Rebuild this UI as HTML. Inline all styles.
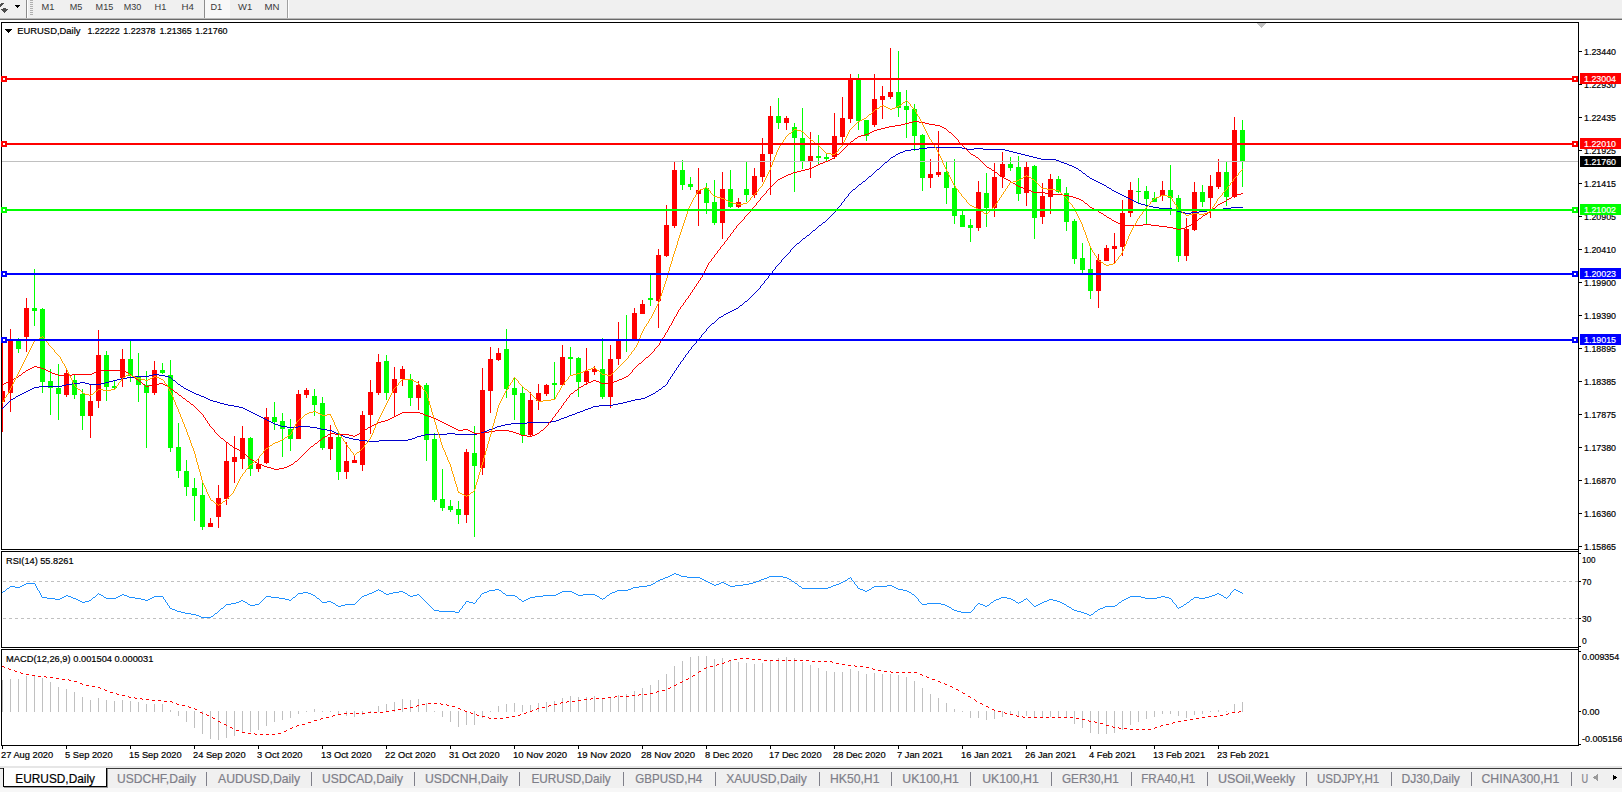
<!DOCTYPE html><html><head><meta charset="utf-8"><title>EURUSD,Daily</title>
<style>html,body{margin:0;padding:0;background:#fff;width:1622px;height:792px;overflow:hidden}svg{display:block;position:absolute;left:0;top:0}text{font-family:"Liberation Sans",sans-serif;font-size:9.9px;fill:#000;stroke:#000;stroke-width:0.2px}.tb text{fill:#3a3a3a;stroke:none;font-size:9.9px}.tab text{fill:#7e7e88;stroke:#7e7e88;stroke-width:0.2px;font-size:13px}.c{shape-rendering:crispEdges}</style></head><body>
<svg width="1622" height="792" viewBox="0 0 1622 792">
<rect width="1622" height="792" fill="#fff"/>
<g class="c tb">
<rect x="0" y="0" width="1622" height="18" fill="#f0f0f0"/>
<rect x="0" y="18" width="1622" height="1" fill="#b9b9b9"/>
<rect x="0" y="19" width="1622" height="1" fill="#6a6a6a"/>
<path d="M1 9h7l-3.5 4z" fill="#4d4d4d"/><path d="M3 8h3v1h-3z" fill="#4d4d4d"/>
<path d="M0 4l2.5-1.5 1 1L1 7H0z" fill="#4d4d4d"/>
<path d="M15 5h5l-2.5 3z" fill="#000"/>
<rect x="26" y="0" width="1" height="18" fill="#8c8c8c"/><rect x="27" y="0" width="1" height="18" fill="#fff"/>
<rect x="30" y="0" width="3" height="1" fill="#b0b0b0"/>
<rect x="30" y="2" width="3" height="1" fill="#b0b0b0"/>
<rect x="30" y="4" width="3" height="1" fill="#b0b0b0"/>
<rect x="30" y="6" width="3" height="1" fill="#b0b0b0"/>
<rect x="30" y="8" width="3" height="1" fill="#b0b0b0"/>
<rect x="30" y="10" width="3" height="1" fill="#b0b0b0"/>
<rect x="30" y="12" width="3" height="1" fill="#b0b0b0"/>
<rect x="30" y="14" width="3" height="1" fill="#b0b0b0"/>
<rect x="204" y="0" width="26" height="18" fill="#f8f8f8"/><rect x="204" y="0" width="1" height="18" fill="#8c8c8c"/>
<rect x="287" y="0" width="1" height="18" fill="#a0a0a0"/><rect x="288" y="0" width="1" height="18" fill="#fff"/>
</g><g class="tb">
<text x="41.6" y="10" textLength="12.9" lengthAdjust="spacingAndGlyphs">M1</text>
<text x="69.7" y="10" textLength="12.6" lengthAdjust="spacingAndGlyphs">M5</text>
<text x="95.6" y="10" textLength="17.6" lengthAdjust="spacingAndGlyphs">M15</text>
<text x="123.7" y="10" textLength="17.6" lengthAdjust="spacingAndGlyphs">M30</text>
<text x="154.6" y="10" textLength="11.8" lengthAdjust="spacingAndGlyphs">H1</text>
<text x="181.6" y="10" textLength="12.4" lengthAdjust="spacingAndGlyphs">H4</text>
<text x="210.4" y="10" textLength="11.7" lengthAdjust="spacingAndGlyphs">D1</text>
<text x="238" y="10" textLength="14.2" lengthAdjust="spacingAndGlyphs">W1</text>
<text x="264.4" y="10" textLength="15.0" lengthAdjust="spacingAndGlyphs">MN</text>
</g>
<g class="c">
<rect x="1" y="22" width="1578" height="1" fill="#000"/>
<rect x="1" y="549" width="1578" height="1" fill="#000"/>
<rect x="1" y="22" width="1" height="528" fill="#000"/>
<rect x="1" y="551" width="1578" height="1" fill="#000"/>
<rect x="1" y="647" width="1578" height="1" fill="#000"/>
<rect x="1" y="551" width="1" height="97" fill="#000"/>
<rect x="1" y="649" width="1578" height="1" fill="#000"/>
<rect x="1" y="745" width="1578" height="1" fill="#000"/>
<rect x="1" y="649" width="1" height="97" fill="#000"/>
<rect x="1578" y="22" width="1" height="724" fill="#000"/>
<path d="M1257 23h9l-4.5 5z" fill="#c0c0c0"/>
<path d="M5 29h7l-3.5 4z" fill="#000"/>
</g>
<g class="c">
<rect x="2" y="342" width="1" height="90" fill="#ff0000"/>
<rect x="2" y="391" width="3" height="11" fill="#ff0000"/>
<rect x="10" y="329" width="1" height="83" fill="#ff0000"/>
<rect x="8" y="341" width="5" height="52" fill="#ff0000"/>
<rect x="18" y="338" width="1" height="15" fill="#00ff00"/>
<rect x="16" y="341" width="5" height="8" fill="#00ff00"/>
<rect x="26" y="298" width="1" height="54" fill="#ff0000"/>
<rect x="24" y="308" width="5" height="29" fill="#ff0000"/>
<rect x="34" y="269" width="1" height="57" fill="#00ff00"/>
<rect x="32" y="308" width="5" height="3" fill="#00ff00"/>
<rect x="42" y="308" width="1" height="85" fill="#00ff00"/>
<rect x="40" y="309" width="5" height="73" fill="#00ff00"/>
<rect x="50" y="369" width="1" height="46" fill="#00ff00"/>
<rect x="48" y="381" width="5" height="7" fill="#00ff00"/>
<rect x="58" y="364" width="1" height="56" fill="#00ff00"/>
<rect x="56" y="388" width="5" height="6" fill="#00ff00"/>
<rect x="66" y="370" width="1" height="27" fill="#ff0000"/>
<rect x="64" y="373" width="5" height="22" fill="#ff0000"/>
<rect x="74" y="375" width="1" height="24" fill="#00ff00"/>
<rect x="72" y="380" width="5" height="15" fill="#00ff00"/>
<rect x="82" y="389" width="1" height="41" fill="#00ff00"/>
<rect x="80" y="394" width="5" height="22" fill="#00ff00"/>
<rect x="90" y="385" width="1" height="53" fill="#ff0000"/>
<rect x="88" y="401" width="5" height="15" fill="#ff0000"/>
<rect x="98" y="330" width="1" height="78" fill="#ff0000"/>
<rect x="96" y="355" width="5" height="46" fill="#ff0000"/>
<rect x="106" y="351" width="1" height="50" fill="#00ff00"/>
<rect x="104" y="355" width="5" height="32" fill="#00ff00"/>
<rect x="114" y="380" width="1" height="9" fill="#00ff00"/>
<rect x="112" y="386" width="5" height="2" fill="#00ff00"/>
<rect x="122" y="349" width="1" height="38" fill="#ff0000"/>
<rect x="120" y="359" width="5" height="19" fill="#ff0000"/>
<rect x="130" y="341" width="1" height="41" fill="#00ff00"/>
<rect x="128" y="359" width="5" height="17" fill="#00ff00"/>
<rect x="138" y="353" width="1" height="49" fill="#00ff00"/>
<rect x="136" y="377" width="5" height="8" fill="#00ff00"/>
<rect x="146" y="371" width="1" height="77" fill="#00ff00"/>
<rect x="144" y="385" width="5" height="8" fill="#00ff00"/>
<rect x="154" y="361" width="1" height="34" fill="#ff0000"/>
<rect x="152" y="370" width="5" height="23" fill="#ff0000"/>
<rect x="162" y="363" width="1" height="11" fill="#00ff00"/>
<rect x="160" y="370" width="5" height="3" fill="#00ff00"/>
<rect x="170" y="360" width="1" height="92" fill="#00ff00"/>
<rect x="168" y="375" width="5" height="73" fill="#00ff00"/>
<rect x="178" y="423" width="1" height="55" fill="#00ff00"/>
<rect x="176" y="447" width="5" height="24" fill="#00ff00"/>
<rect x="186" y="460" width="1" height="36" fill="#00ff00"/>
<rect x="184" y="471" width="5" height="16" fill="#00ff00"/>
<rect x="194" y="478" width="1" height="43" fill="#00ff00"/>
<rect x="192" y="488" width="5" height="8" fill="#00ff00"/>
<rect x="202" y="481" width="1" height="49" fill="#00ff00"/>
<rect x="200" y="495" width="5" height="32" fill="#00ff00"/>
<rect x="210" y="518" width="1" height="9" fill="#ff0000"/>
<rect x="208" y="523" width="5" height="4" fill="#ff0000"/>
<rect x="218" y="485" width="1" height="43" fill="#ff0000"/>
<rect x="216" y="498" width="5" height="19" fill="#ff0000"/>
<rect x="226" y="443" width="1" height="62" fill="#ff0000"/>
<rect x="224" y="461" width="5" height="38" fill="#ff0000"/>
<rect x="234" y="436" width="1" height="47" fill="#ff0000"/>
<rect x="232" y="457" width="5" height="5" fill="#ff0000"/>
<rect x="242" y="426" width="1" height="43" fill="#ff0000"/>
<rect x="240" y="438" width="5" height="21" fill="#ff0000"/>
<rect x="250" y="437" width="1" height="39" fill="#00ff00"/>
<rect x="248" y="438" width="5" height="31" fill="#00ff00"/>
<rect x="258" y="459" width="1" height="13" fill="#ff0000"/>
<rect x="256" y="464" width="5" height="5" fill="#ff0000"/>
<rect x="266" y="408" width="1" height="56" fill="#ff0000"/>
<rect x="264" y="417" width="5" height="46" fill="#ff0000"/>
<rect x="274" y="402" width="1" height="28" fill="#00ff00"/>
<rect x="272" y="417" width="5" height="5" fill="#00ff00"/>
<rect x="282" y="413" width="1" height="44" fill="#00ff00"/>
<rect x="280" y="421" width="5" height="8" fill="#00ff00"/>
<rect x="290" y="419" width="1" height="32" fill="#00ff00"/>
<rect x="288" y="429" width="5" height="10" fill="#00ff00"/>
<rect x="298" y="390" width="1" height="49" fill="#ff0000"/>
<rect x="296" y="394" width="5" height="45" fill="#ff0000"/>
<rect x="306" y="388" width="1" height="10" fill="#ff0000"/>
<rect x="304" y="390" width="5" height="5" fill="#ff0000"/>
<rect x="314" y="389" width="1" height="27" fill="#00ff00"/>
<rect x="312" y="396" width="5" height="9" fill="#00ff00"/>
<rect x="322" y="397" width="1" height="53" fill="#00ff00"/>
<rect x="320" y="403" width="5" height="45" fill="#00ff00"/>
<rect x="330" y="425" width="1" height="35" fill="#ff0000"/>
<rect x="328" y="437" width="5" height="12" fill="#ff0000"/>
<rect x="338" y="433" width="1" height="47" fill="#00ff00"/>
<rect x="336" y="437" width="5" height="35" fill="#00ff00"/>
<rect x="346" y="442" width="1" height="37" fill="#ff0000"/>
<rect x="344" y="461" width="5" height="11" fill="#ff0000"/>
<rect x="354" y="455" width="1" height="8" fill="#ff0000"/>
<rect x="352" y="460" width="5" height="3" fill="#ff0000"/>
<rect x="362" y="411" width="1" height="60" fill="#ff0000"/>
<rect x="360" y="415" width="5" height="50" fill="#ff0000"/>
<rect x="370" y="380" width="1" height="54" fill="#ff0000"/>
<rect x="368" y="392" width="5" height="23" fill="#ff0000"/>
<rect x="378" y="354" width="1" height="41" fill="#ff0000"/>
<rect x="376" y="362" width="5" height="31" fill="#ff0000"/>
<rect x="386" y="355" width="1" height="45" fill="#00ff00"/>
<rect x="384" y="361" width="5" height="32" fill="#00ff00"/>
<rect x="394" y="367" width="1" height="49" fill="#ff0000"/>
<rect x="392" y="379" width="5" height="14" fill="#ff0000"/>
<rect x="402" y="366" width="1" height="20" fill="#ff0000"/>
<rect x="400" y="369" width="5" height="10" fill="#ff0000"/>
<rect x="410" y="374" width="1" height="32" fill="#00ff00"/>
<rect x="408" y="379" width="5" height="19" fill="#00ff00"/>
<rect x="418" y="381" width="1" height="29" fill="#ff0000"/>
<rect x="416" y="385" width="5" height="13" fill="#ff0000"/>
<rect x="426" y="383" width="1" height="78" fill="#00ff00"/>
<rect x="424" y="385" width="5" height="55" fill="#00ff00"/>
<rect x="434" y="433" width="1" height="69" fill="#00ff00"/>
<rect x="432" y="439" width="5" height="61" fill="#00ff00"/>
<rect x="442" y="469" width="1" height="42" fill="#00ff00"/>
<rect x="440" y="499" width="5" height="9" fill="#00ff00"/>
<rect x="450" y="500" width="1" height="12" fill="#00ff00"/>
<rect x="448" y="506" width="5" height="4" fill="#00ff00"/>
<rect x="458" y="501" width="1" height="23" fill="#00ff00"/>
<rect x="456" y="509" width="5" height="6" fill="#00ff00"/>
<rect x="466" y="449" width="1" height="74" fill="#ff0000"/>
<rect x="464" y="452" width="5" height="63" fill="#ff0000"/>
<rect x="474" y="426" width="1" height="111" fill="#00ff00"/>
<rect x="472" y="453" width="5" height="13" fill="#00ff00"/>
<rect x="482" y="368" width="1" height="107" fill="#ff0000"/>
<rect x="480" y="390" width="5" height="78" fill="#ff0000"/>
<rect x="490" y="347" width="1" height="66" fill="#ff0000"/>
<rect x="488" y="359" width="5" height="32" fill="#ff0000"/>
<rect x="498" y="348" width="1" height="13" fill="#ff0000"/>
<rect x="496" y="353" width="5" height="7" fill="#ff0000"/>
<rect x="506" y="329" width="1" height="69" fill="#00ff00"/>
<rect x="504" y="349" width="5" height="40" fill="#00ff00"/>
<rect x="514" y="377" width="1" height="43" fill="#00ff00"/>
<rect x="512" y="388" width="5" height="7" fill="#00ff00"/>
<rect x="522" y="386" width="1" height="57" fill="#00ff00"/>
<rect x="520" y="393" width="5" height="42" fill="#00ff00"/>
<rect x="530" y="392" width="1" height="44" fill="#ff0000"/>
<rect x="528" y="400" width="5" height="35" fill="#ff0000"/>
<rect x="538" y="384" width="1" height="26" fill="#ff0000"/>
<rect x="536" y="393" width="5" height="8" fill="#ff0000"/>
<rect x="546" y="384" width="1" height="12" fill="#ff0000"/>
<rect x="544" y="385" width="5" height="9" fill="#ff0000"/>
<rect x="554" y="362" width="1" height="37" fill="#00ff00"/>
<rect x="552" y="383" width="5" height="2" fill="#00ff00"/>
<rect x="562" y="345" width="1" height="40" fill="#ff0000"/>
<rect x="560" y="357" width="5" height="28" fill="#ff0000"/>
<rect x="570" y="347" width="1" height="28" fill="#00ff00"/>
<rect x="568" y="357" width="5" height="2" fill="#00ff00"/>
<rect x="578" y="357" width="1" height="40" fill="#00ff00"/>
<rect x="576" y="358" width="5" height="24" fill="#00ff00"/>
<rect x="586" y="348" width="1" height="37" fill="#ff0000"/>
<rect x="584" y="371" width="5" height="11" fill="#ff0000"/>
<rect x="594" y="366" width="1" height="9" fill="#ff0000"/>
<rect x="592" y="369" width="5" height="3" fill="#ff0000"/>
<rect x="602" y="338" width="1" height="61" fill="#00ff00"/>
<rect x="600" y="369" width="5" height="28" fill="#00ff00"/>
<rect x="610" y="345" width="1" height="63" fill="#ff0000"/>
<rect x="608" y="359" width="5" height="38" fill="#ff0000"/>
<rect x="618" y="322" width="1" height="43" fill="#ff0000"/>
<rect x="616" y="340" width="5" height="19" fill="#ff0000"/>
<rect x="626" y="315" width="1" height="37" fill="#00ff00"/>
<rect x="624" y="339" width="5" height="2" fill="#00ff00"/>
<rect x="634" y="308" width="1" height="33" fill="#ff0000"/>
<rect x="632" y="313" width="5" height="27" fill="#ff0000"/>
<rect x="642" y="300" width="1" height="14" fill="#ff0000"/>
<rect x="640" y="304" width="5" height="10" fill="#ff0000"/>
<rect x="650" y="275" width="1" height="31" fill="#00ff00"/>
<rect x="648" y="298" width="5" height="2" fill="#00ff00"/>
<rect x="658" y="249" width="1" height="79" fill="#ff0000"/>
<rect x="656" y="255" width="5" height="46" fill="#ff0000"/>
<rect x="666" y="205" width="1" height="52" fill="#ff0000"/>
<rect x="664" y="225" width="5" height="31" fill="#ff0000"/>
<rect x="674" y="162" width="1" height="66" fill="#ff0000"/>
<rect x="672" y="170" width="5" height="56" fill="#ff0000"/>
<rect x="682" y="160" width="1" height="30" fill="#00ff00"/>
<rect x="680" y="170" width="5" height="15" fill="#00ff00"/>
<rect x="690" y="177" width="1" height="13" fill="#00ff00"/>
<rect x="688" y="184" width="5" height="3" fill="#00ff00"/>
<rect x="698" y="168" width="1" height="58" fill="#ff0000"/>
<rect x="696" y="190" width="5" height="4" fill="#ff0000"/>
<rect x="706" y="183" width="1" height="31" fill="#00ff00"/>
<rect x="704" y="188" width="5" height="15" fill="#00ff00"/>
<rect x="714" y="180" width="1" height="45" fill="#00ff00"/>
<rect x="712" y="202" width="5" height="21" fill="#00ff00"/>
<rect x="722" y="172" width="1" height="67" fill="#ff0000"/>
<rect x="720" y="189" width="5" height="34" fill="#ff0000"/>
<rect x="730" y="170" width="1" height="38" fill="#00ff00"/>
<rect x="728" y="189" width="5" height="18" fill="#00ff00"/>
<rect x="738" y="198" width="1" height="10" fill="#ff0000"/>
<rect x="736" y="202" width="5" height="5" fill="#ff0000"/>
<rect x="746" y="161" width="1" height="41" fill="#00ff00"/>
<rect x="744" y="189" width="5" height="6" fill="#00ff00"/>
<rect x="754" y="168" width="1" height="30" fill="#ff0000"/>
<rect x="752" y="176" width="5" height="19" fill="#ff0000"/>
<rect x="762" y="138" width="1" height="44" fill="#ff0000"/>
<rect x="760" y="154" width="5" height="23" fill="#ff0000"/>
<rect x="770" y="106" width="1" height="89" fill="#ff0000"/>
<rect x="768" y="116" width="5" height="38" fill="#ff0000"/>
<rect x="778" y="98" width="1" height="31" fill="#00ff00"/>
<rect x="776" y="116" width="5" height="7" fill="#00ff00"/>
<rect x="786" y="116" width="1" height="14" fill="#ff0000"/>
<rect x="784" y="118" width="5" height="5" fill="#ff0000"/>
<rect x="794" y="123" width="1" height="69" fill="#00ff00"/>
<rect x="792" y="127" width="5" height="11" fill="#00ff00"/>
<rect x="802" y="108" width="1" height="61" fill="#00ff00"/>
<rect x="800" y="138" width="5" height="24" fill="#00ff00"/>
<rect x="810" y="132" width="1" height="46" fill="#ff0000"/>
<rect x="808" y="156" width="5" height="6" fill="#ff0000"/>
<rect x="818" y="135" width="1" height="30" fill="#00ff00"/>
<rect x="816" y="156" width="5" height="2" fill="#00ff00"/>
<rect x="826" y="153" width="1" height="8" fill="#00ff00"/>
<rect x="824" y="157" width="5" height="2" fill="#00ff00"/>
<rect x="834" y="113" width="1" height="46" fill="#ff0000"/>
<rect x="832" y="136" width="5" height="21" fill="#ff0000"/>
<rect x="842" y="97" width="1" height="46" fill="#ff0000"/>
<rect x="840" y="118" width="5" height="19" fill="#ff0000"/>
<rect x="850" y="74" width="1" height="49" fill="#ff0000"/>
<rect x="848" y="79" width="5" height="40" fill="#ff0000"/>
<rect x="858" y="74" width="1" height="56" fill="#00ff00"/>
<rect x="856" y="80" width="5" height="41" fill="#00ff00"/>
<rect x="866" y="120" width="1" height="21" fill="#00ff00"/>
<rect x="864" y="120" width="5" height="16" fill="#00ff00"/>
<rect x="874" y="74" width="1" height="53" fill="#ff0000"/>
<rect x="872" y="99" width="5" height="26" fill="#ff0000"/>
<rect x="882" y="86" width="1" height="33" fill="#ff0000"/>
<rect x="880" y="96" width="5" height="4" fill="#ff0000"/>
<rect x="890" y="48" width="1" height="51" fill="#ff0000"/>
<rect x="888" y="92" width="5" height="5" fill="#ff0000"/>
<rect x="898" y="51" width="1" height="66" fill="#00ff00"/>
<rect x="896" y="92" width="5" height="16" fill="#00ff00"/>
<rect x="906" y="90" width="1" height="48" fill="#00ff00"/>
<rect x="904" y="106" width="5" height="4" fill="#00ff00"/>
<rect x="914" y="104" width="1" height="47" fill="#00ff00"/>
<rect x="912" y="109" width="5" height="27" fill="#00ff00"/>
<rect x="922" y="134" width="1" height="57" fill="#00ff00"/>
<rect x="920" y="135" width="5" height="43" fill="#00ff00"/>
<rect x="930" y="159" width="1" height="29" fill="#ff0000"/>
<rect x="928" y="174" width="5" height="4" fill="#ff0000"/>
<rect x="938" y="131" width="1" height="46" fill="#ff0000"/>
<rect x="936" y="172" width="5" height="3" fill="#ff0000"/>
<rect x="946" y="162" width="1" height="42" fill="#00ff00"/>
<rect x="944" y="172" width="5" height="16" fill="#00ff00"/>
<rect x="954" y="159" width="1" height="65" fill="#00ff00"/>
<rect x="952" y="188" width="5" height="28" fill="#00ff00"/>
<rect x="962" y="211" width="1" height="16" fill="#00ff00"/>
<rect x="960" y="215" width="5" height="12" fill="#00ff00"/>
<rect x="970" y="219" width="1" height="23" fill="#00ff00"/>
<rect x="968" y="225" width="5" height="3" fill="#00ff00"/>
<rect x="978" y="181" width="1" height="50" fill="#ff0000"/>
<rect x="976" y="192" width="5" height="36" fill="#ff0000"/>
<rect x="986" y="173" width="1" height="54" fill="#00ff00"/>
<rect x="984" y="193" width="5" height="15" fill="#00ff00"/>
<rect x="994" y="163" width="1" height="54" fill="#ff0000"/>
<rect x="992" y="177" width="5" height="31" fill="#ff0000"/>
<rect x="1002" y="152" width="1" height="36" fill="#ff0000"/>
<rect x="1000" y="164" width="5" height="13" fill="#ff0000"/>
<rect x="1010" y="157" width="1" height="14" fill="#00ff00"/>
<rect x="1008" y="164" width="5" height="4" fill="#00ff00"/>
<rect x="1018" y="156" width="1" height="45" fill="#00ff00"/>
<rect x="1016" y="167" width="5" height="27" fill="#00ff00"/>
<rect x="1026" y="161" width="1" height="45" fill="#ff0000"/>
<rect x="1024" y="167" width="5" height="26" fill="#ff0000"/>
<rect x="1034" y="165" width="1" height="74" fill="#00ff00"/>
<rect x="1032" y="166" width="5" height="52" fill="#00ff00"/>
<rect x="1042" y="183" width="1" height="41" fill="#ff0000"/>
<rect x="1040" y="196" width="5" height="21" fill="#ff0000"/>
<rect x="1050" y="174" width="1" height="40" fill="#ff0000"/>
<rect x="1048" y="179" width="5" height="18" fill="#ff0000"/>
<rect x="1058" y="176" width="1" height="17" fill="#00ff00"/>
<rect x="1056" y="179" width="5" height="13" fill="#00ff00"/>
<rect x="1066" y="187" width="1" height="44" fill="#00ff00"/>
<rect x="1064" y="193" width="5" height="29" fill="#00ff00"/>
<rect x="1074" y="219" width="1" height="45" fill="#00ff00"/>
<rect x="1072" y="221" width="5" height="38" fill="#00ff00"/>
<rect x="1082" y="243" width="1" height="30" fill="#00ff00"/>
<rect x="1080" y="258" width="5" height="12" fill="#00ff00"/>
<rect x="1090" y="248" width="1" height="51" fill="#00ff00"/>
<rect x="1088" y="269" width="5" height="22" fill="#00ff00"/>
<rect x="1098" y="254" width="1" height="54" fill="#ff0000"/>
<rect x="1096" y="260" width="5" height="31" fill="#ff0000"/>
<rect x="1106" y="245" width="1" height="16" fill="#ff0000"/>
<rect x="1104" y="248" width="5" height="13" fill="#ff0000"/>
<rect x="1114" y="233" width="1" height="30" fill="#ff0000"/>
<rect x="1112" y="246" width="5" height="3" fill="#ff0000"/>
<rect x="1122" y="200" width="1" height="56" fill="#ff0000"/>
<rect x="1120" y="213" width="5" height="34" fill="#ff0000"/>
<rect x="1130" y="182" width="1" height="35" fill="#ff0000"/>
<rect x="1128" y="190" width="5" height="23" fill="#ff0000"/>
<rect x="1138" y="178" width="1" height="25" fill="#00ff00"/>
<rect x="1136" y="191" width="5" height="1" fill="#00ff00"/>
<rect x="1146" y="186" width="1" height="38" fill="#00ff00"/>
<rect x="1144" y="191" width="5" height="8" fill="#00ff00"/>
<rect x="1154" y="192" width="1" height="10" fill="#00ff00"/>
<rect x="1152" y="198" width="5" height="4" fill="#00ff00"/>
<rect x="1162" y="181" width="1" height="20" fill="#ff0000"/>
<rect x="1160" y="190" width="5" height="6" fill="#ff0000"/>
<rect x="1170" y="165" width="1" height="50" fill="#00ff00"/>
<rect x="1168" y="190" width="5" height="8" fill="#00ff00"/>
<rect x="1178" y="195" width="1" height="67" fill="#00ff00"/>
<rect x="1176" y="198" width="5" height="58" fill="#00ff00"/>
<rect x="1186" y="218" width="1" height="43" fill="#ff0000"/>
<rect x="1184" y="229" width="5" height="27" fill="#ff0000"/>
<rect x="1194" y="182" width="1" height="49" fill="#ff0000"/>
<rect x="1192" y="192" width="5" height="38" fill="#ff0000"/>
<rect x="1202" y="185" width="1" height="22" fill="#00ff00"/>
<rect x="1200" y="192" width="5" height="10" fill="#00ff00"/>
<rect x="1210" y="175" width="1" height="43" fill="#ff0000"/>
<rect x="1208" y="186" width="5" height="12" fill="#ff0000"/>
<rect x="1218" y="159" width="1" height="30" fill="#ff0000"/>
<rect x="1216" y="172" width="5" height="15" fill="#ff0000"/>
<rect x="1226" y="162" width="1" height="44" fill="#00ff00"/>
<rect x="1224" y="172" width="5" height="25" fill="#00ff00"/>
<rect x="1234" y="117" width="1" height="81" fill="#ff0000"/>
<rect x="1232" y="130" width="5" height="67" fill="#ff0000"/>
<rect x="1242" y="120" width="1" height="67" fill="#00ff00"/>
<rect x="1240" y="130" width="5" height="32" fill="#00ff00"/>
<rect x="2" y="161" width="1576" height="1" fill="#c0c0c0"/>
</g>
<g class="c">
<path fill="#0000cd" d="M672 374h1v2h-1zM790 250h1v2h-1zM848 194h1v2h-1zM836 209h1v2h-1zM683 358h1v2h-1zM775 267h1v2h-1zM841 203h1v2h-1zM688 351h1v2h-1zM676 368h1v2h-1zM691 347h1v2h-1zM768 276h1v2h-1zM680 362h1v2h-1zM674 371h1v2h-1zM670 377h1v2h-1zM685 355h1v2h-1zM696 341h1v2h-1zM772 271h1v2h-1zM760 286h1v2h-1zM701 335h1v2h-1zM668 380h1v2h-1zM844 199h1v2h-1zM764 281h1v2h-1zM706 329h1v2h-1zM678 365h1v2h-1zM667 382h1v2h-1zM781 260h1v2h-1zM338 434h2v1h-2zM425 434h22v1h-22zM455 434h22v1h-22zM856 187h1v1h-1zM1107 187h2v1h-2zM823 222h2v1h-2zM9 401h1v1h-1zM213 401h4v1h-4zM627 401h4v1h-4zM149 375h4v1h-4zM159 375h6v1h-6zM927 147h35v1h-35zM911 149h8v1h-8zM967 149h7v1h-7zM983 149h22v1h-22zM32 388h2v1h-2zM184 388h2v1h-2zM661 388h1v1h-1zM806 236h1v1h-1zM72 383h8v1h-8zM85 383h4v1h-4zM101 383h4v1h-4zM177 383h1v1h-1zM275 424h3v1h-3zM505 424h6v1h-6zM39 386h23v1h-23zM181 386h2v1h-2zM663 386h2v1h-2zM903 151h2v1h-2zM1009 151h4v1h-4zM5 405h1v1h-1zM228 405h6v1h-6zM599 405h14v1h-14zM135 376h14v1h-14zM165 376h4v1h-4zM671 376h1v1h-1zM340 435h3v1h-3zM421 435h4v1h-4zM359 440h8v1h-8zM379 440h29v1h-29zM813 230h2v1h-2zM255 414h2v1h-2zM572 414h3v1h-3zM353 439h6v1h-6zM408 439h4v1h-4zM3 407h1v1h-1zM239 407h4v1h-4zM591 407h2v1h-2zM919 148h8v1h-8zM962 148h5v1h-5zM974 148h9v1h-9zM771 273h1v1h-1zM861 183h1v1h-1zM1100 183h2v1h-2zM866 179h1v1h-1zM1092 179h2v1h-2zM273 423h2v1h-2zM511 423h16v1h-16zM265 419h2v1h-2zM559 419h2v1h-2zM349 438h4v1h-4zM412 438h3v1h-3zM367 441h12v1h-12zM900 152h3v1h-3zM1013 152h4v1h-4zM271 422h2v1h-2zM527 422h24v1h-24zM834 212h1v1h-1zM1181 212h4v1h-4zM1191 212h8v1h-8zM825 221h1v1h-1zM259 416h2v1h-2zM567 416h2v1h-2zM859 184h2v1h-2zM1102 184h2v1h-2zM343 436h2v1h-2zM417 436h4v1h-4zM321 429h6v1h-6zM489 429h3v1h-3zM782 259h1v1h-1zM884 163h1v1h-1zM1064 163h3v1h-3zM257 415h2v1h-2zM569 415h3v1h-3zM249 411h2v1h-2zM580 411h3v1h-3zM890 158h1v1h-1zM1037 158h4v1h-4zM684 357h1v1h-1zM24 392h2v1h-2zM192 392h2v1h-2zM655 392h1v1h-1zM2 408h1v1h-1zM243 408h2v1h-2zM588 408h3v1h-3zM336 433h2v1h-2zM447 433h8v1h-8zM477 433h4v1h-4zM833 213h1v1h-1zM1185 213h6v1h-6zM837 208h1v1h-1zM1159 208h13v1h-13zM1223 208h8v1h-8zM838 207h1v1h-1zM1153 207h6v1h-6zM1231 207h12v1h-12zM327 430h5v1h-5zM487 430h2v1h-2zM769 275h1v1h-1zM287 427h11v1h-11zM310 427h7v1h-7zM495 427h2v1h-2zM832 214h1v1h-1zM715 321h1v1h-1zM869 176h2v1h-2zM1087 176h2v1h-2zM750 297h1v1h-1zM739 306h1v1h-1zM675 370h1v1h-1zM278 425h3v1h-3zM501 425h4v1h-4zM121 378h6v1h-6zM171 378h1v1h-1zM875 171h1v1h-1zM1081 171h1v1h-1zM812 231h1v1h-1zM700 337h1v1h-1zM20 394h2v1h-2zM196 394h3v1h-3zM651 394h2v1h-2zM801 240h1v1h-1zM269 421h2v1h-2zM551 421h5v1h-5zM109 381h4v1h-4zM175 381h1v1h-1zM695 343h1v1h-1zM66 384h6v1h-6zM89 384h12v1h-12zM178 384h2v1h-2zM666 384h1v1h-1zM317 428h4v1h-4zM492 428h3v1h-3zM842 202h1v1h-1zM1136 202h2v1h-2zM127 377h8v1h-8zM169 377h2v1h-2zM873 173h1v1h-1zM1083 173h2v1h-2zM855 188h1v1h-1zM1109 188h2v1h-2zM889 159h1v1h-1zM1041 159h15v1h-15zM757 290h1v1h-1zM18 395h2v1h-2zM199 395h2v1h-2zM649 395h2v1h-2zM905 150h6v1h-6zM1005 150h4v1h-4zM245 409h2v1h-2zM585 409h3v1h-3zM740 305h2v1h-2zM16 396h2v1h-2zM201 396h3v1h-3zM647 396h2v1h-2zM819 225h2v1h-2zM6 404h1v1h-1zM224 404h4v1h-4zM613 404h5v1h-5zM845 198h1v1h-1zM1128 198h2v1h-2zM792 248h1v1h-1zM281 426h6v1h-6zM298 426h12v1h-12zM497 426h4v1h-4zM698 339h1v1h-1zM885 162h2v1h-2zM1061 162h3v1h-3zM893 156h2v1h-2zM1029 156h4v1h-4zM334 432h2v1h-2zM481 432h3v1h-3zM10 400h1v1h-1zM210 400h3v1h-3zM631 400h4v1h-4zM1120 194h2v1h-2zM852 190h1v1h-1zM1112 190h2v1h-2zM835 211h1v1h-1zM1177 211h4v1h-4zM1199 211h8v1h-8zM840 205h1v1h-1zM1145 205h4v1h-4zM1138 203h3v1h-3zM827 219h1v1h-1zM784 257h1v1h-1zM881 166h1v1h-1zM1072 166h2v1h-2zM13 398h2v1h-2zM206 398h2v1h-2zM641 398h4v1h-4zM117 379h4v1h-4zM172 379h1v1h-1zM669 379h1v1h-1zM4 406h1v1h-1zM234 406h5v1h-5zM593 406h6v1h-6zM891 157h2v1h-2zM1033 157h4v1h-4zM11 399h2v1h-2zM208 399h2v1h-2zM635 399h6v1h-6zM898 153h2v1h-2zM1017 153h4v1h-4zM62 385h4v1h-4zM180 385h1v1h-1zM665 385h1v1h-1zM686 354h1v1h-1zM882 165h1v1h-1zM1069 165h3v1h-3zM839 206h1v1h-1zM1149 206h4v1h-4zM807 235h2v1h-2zM251 412h2v1h-2zM577 412h3v1h-3zM776 266h1v1h-1zM796 244h1v1h-1zM28 390h2v1h-2zM188 390h2v1h-2zM658 390h1v1h-1zM8 402h1v1h-1zM217 402h3v1h-3zM623 402h4v1h-4zM717 319h1v1h-1zM745 301h2v1h-2zM850 192h1v1h-1zM1116 192h2v1h-2zM865 180h1v1h-1zM1094 180h2v1h-2zM877 169h2v1h-2zM1078 169h1v1h-1zM815 229h1v1h-1zM1172 209h3v1h-3zM1215 209h8v1h-8zM7 403h1v1h-1zM220 403h4v1h-4zM618 403h5v1h-5zM752 295h1v1h-1zM80 382h5v1h-5zM105 382h4v1h-4zM176 382h1v1h-1zM30 389h2v1h-2zM186 389h2v1h-2zM659 389h2v1h-2zM345 437h4v1h-4zM415 437h2v1h-2zM708 327h1v1h-1zM743 303h1v1h-1zM689 350h1v1h-1zM896 154h2v1h-2zM1021 154h4v1h-4zM822 223h1v1h-1zM895 155h1v1h-1zM1025 155h4v1h-4zM261 417h2v1h-2zM564 417h3v1h-3zM794 246h1v1h-1zM1141 204h4v1h-4zM759 288h1v1h-1zM843 201h1v1h-1zM1134 201h2v1h-2zM26 391h2v1h-2zM190 391h2v1h-2zM656 391h2v1h-2zM726 313h2v1h-2zM770 274h1v1h-1zM1132 200h2v1h-2zM712 323h2v1h-2zM846 197h1v1h-1zM1126 197h2v1h-2zM849 193h1v1h-1zM1118 193h2v1h-2zM888 160h1v1h-1zM1056 160h3v1h-3zM887 161h1v1h-1zM1059 161h2v1h-2zM883 164h1v1h-1zM1067 164h2v1h-2zM22 393h2v1h-2zM194 393h2v1h-2zM653 393h2v1h-2zM1175 210h2v1h-2zM1207 210h8v1h-8zM723 315h1v1h-1zM847 196h1v1h-1zM1124 196h2v1h-2zM738 307h1v1h-1zM704 332h1v1h-1zM828 218h1v1h-1zM880 167h1v1h-1zM1074 167h2v1h-2zM817 227h1v1h-1zM863 181h2v1h-2zM1096 181h2v1h-2zM699 338h1v1h-1zM800 241h1v1h-1zM857 186h1v1h-1zM1106 186h1v1h-1zM862 182h1v1h-1zM1098 182h2v1h-2zM247 410h2v1h-2zM583 410h2v1h-2zM871 175h1v1h-1zM1086 175h1v1h-1zM867 178h1v1h-1zM1090 178h2v1h-2zM749 298h1v1h-1zM710 325h1v1h-1zM734 309h2v1h-2zM766 279h1v1h-1zM263 418h2v1h-2zM561 418h3v1h-3zM761 285h1v1h-1zM113 380h4v1h-4zM173 380h2v1h-2zM682 360h1v1h-1zM34 387h5v1h-5zM183 387h1v1h-1zM662 387h1v1h-1zM730 311h2v1h-2zM753 294h1v1h-1zM702 334h1v1h-1zM153 374h6v1h-6zM858 185h1v1h-1zM1104 185h2v1h-2zM795 245h1v1h-1zM732 310h2v1h-2zM744 302h1v1h-1zM690 349h1v1h-1zM874 172h1v1h-1zM1082 172h1v1h-1zM802 239h1v1h-1zM751 296h1v1h-1zM728 312h2v1h-2zM830 216h1v1h-1zM787 254h1v1h-1zM724 314h2v1h-2zM693 345h1v1h-1zM748 299h1v1h-1zM853 189h2v1h-2zM1111 189h1v1h-1zM763 283h1v1h-1zM821 224h1v1h-1zM810 233h1v1h-1zM879 168h1v1h-1zM1076 168h2v1h-2zM779 263h1v1h-1zM774 269h1v1h-1zM267 420h2v1h-2zM556 420h3v1h-3zM755 292h1v1h-1zM253 413h2v1h-2zM575 413h2v1h-2zM15 397h1v1h-1zM204 397h2v1h-2zM645 397h2v1h-2zM681 361h1v1h-1zM711 324h1v1h-1zM332 431h2v1h-2zM484 431h3v1h-3zM687 353h1v1h-1zM777 265h1v1h-1zM797 243h2v1h-2zM703 333h1v1h-1zM868 177h1v1h-1zM1089 177h1v1h-1zM805 237h1v1h-1zM789 252h1v1h-1zM876 170h1v1h-1zM1079 170h2v1h-2zM816 228h1v1h-1zM765 280h1v1h-1zM803 238h2v1h-2zM773 270h1v1h-1zM694 344h1v1h-1zM705 331h1v1h-1zM811 232h1v1h-1zM721 316h2v1h-2zM791 249h1v1h-1zM677 367h1v1h-1zM829 217h1v1h-1zM818 226h1v1h-1zM786 255h1v1h-1zM767 278h1v1h-1zM736 308h2v1h-2zM826 220h1v1h-1zM783 258h1v1h-1zM762 284h1v1h-1zM872 174h1v1h-1zM1085 174h1v1h-1zM809 234h1v1h-1zM673 373h1v1h-1zM697 340h1v1h-1zM692 346h1v1h-1zM747 300h1v1h-1zM1130 199h2v1h-2zM1122 195h2v1h-2zM719 317h2v1h-2zM778 264h1v1h-1zM851 191h1v1h-1zM1114 191h2v1h-2zM754 293h1v1h-1zM716 320h1v1h-1zM793 247h1v1h-1zM758 289h1v1h-1zM831 215h1v1h-1zM788 253h1v1h-1zM707 328h1v1h-1zM742 304h1v1h-1zM679 364h1v1h-1zM714 322h1v1h-1zM785 256h1v1h-1zM780 262h1v1h-1zM756 291h1v1h-1zM718 318h1v1h-1zM799 242h1v1h-1zM709 326h1v1h-1z"/>
<path fill="#ff0000" d="M683 303h1v2h-1zM678 310h1v2h-1zM717 251h1v2h-1zM203 415h1v2h-1zM214 430h1v2h-1zM677 312h1v2h-1zM673 319h1v2h-1zM669 326h1v2h-1zM672 321h1v2h-1zM632 370h1v2h-1zM205 418h1v2h-1zM668 328h1v2h-1zM664 335h1v2h-1zM692 290h1v2h-1zM558 410h1v2h-1zM688 296h1v2h-1zM667 330h1v2h-1zM727 238h1v2h-1zM706 267h1v2h-1zM569 395h1v2h-1zM705 269h1v2h-1zM563 403h1v2h-1zM548 423h1v2h-1zM752 208h1v2h-1zM696 284h1v2h-1zM659 343h1v2h-1zM711 259h1v2h-1zM707 265h1v2h-1zM702 275h1v2h-1zM733 230h1v2h-1zM552 418h1v2h-1zM756 203h1v2h-1zM680 307h1v2h-1zM676 314h1v2h-1zM209 424h1v2h-1zM671 323h1v2h-1zM685 300h1v2h-1zM744 217h1v2h-1zM660 341h1v2h-1zM720 247h1v2h-1zM958 140h1v2h-1zM674 317h1v2h-1zM662 338h1v2h-1zM561 406h1v2h-1zM207 421h1v2h-1zM665 333h1v2h-1zM760 198h1v2h-1zM736 226h1v2h-1zM724 242h1v2h-1zM555 414h1v2h-1zM566 399h1v2h-1zM698 281h1v2h-1zM694 287h1v2h-1zM690 293h1v2h-1zM654 349h1v2h-1zM714 255h1v2h-1zM708 263h1v2h-1zM704 271h1v2h-1zM700 278h1v2h-1zM703 273h1v2h-1zM730 234h1v2h-1zM766 191h1v2h-1zM362 431h1v1h-1zM470 431h2v1h-2zM489 431h6v1h-6zM509 431h4v1h-4zM540 431h1v1h-1zM6 382h2v1h-2zM141 382h1v1h-1zM588 382h3v1h-3zM599 382h2v1h-2zM612 382h2v1h-2zM171 389h2v1h-2zM577 389h1v1h-1zM217 434h1v1h-1zM328 434h2v1h-2zM335 434h14v1h-14zM357 434h2v1h-2zM519 434h2v1h-2zM535 434h2v1h-2zM758 201h1v1h-1zM1083 201h1v1h-1zM1224 201h2v1h-2zM271 468h3v1h-3zM279 468h5v1h-5zM734 229h1v1h-1zM1177 229h4v1h-4zM737 225h1v1h-1zM1122 225h21v1h-21zM1151 225h8v1h-8zM1189 225h2v1h-2zM1159 226h8v1h-8zM1187 226h2v1h-2zM895 125h6v1h-6zM935 125h5v1h-5zM246 455h1v1h-1zM302 455h1v1h-1zM854 139h1v1h-1zM957 139h1v1h-1zM1033 192h12v1h-12zM26 370h2v1h-2zM46 370h2v1h-2zM98 370h26v1h-26zM145 385h1v1h-1zM149 385h4v1h-4zM165 385h2v1h-2zM583 385h1v1h-1zM372 425h2v1h-2zM448 425h2v1h-2zM547 425h1v1h-1zM215 432h1v1h-1zM360 432h2v1h-2zM472 432h2v1h-2zM485 432h4v1h-4zM513 432h3v1h-3zM539 432h1v1h-1zM770 187h1v1h-1zM1020 187h3v1h-3zM889 126h6v1h-6zM940 126h2v1h-2zM264 466h3v1h-3zM287 466h2v1h-2zM216 433h1v1h-1zM330 433h5v1h-5zM359 433h1v1h-1zM474 433h11v1h-11zM516 433h3v1h-3zM537 433h2v1h-2zM193 405h1v1h-1zM562 405h1v1h-1zM219 436h1v1h-1zM325 436h2v1h-2zM353 436h2v1h-2zM527 436h5v1h-5zM363 430h2v1h-2zM458 430h5v1h-5zM468 430h2v1h-2zM495 430h14v1h-14zM541 430h2v1h-2zM8 381h2v1h-2zM139 381h2v1h-2zM591 381h2v1h-2zM596 381h3v1h-3zM614 381h3v1h-3zM764 194h1v1h-1zM1049 194h14v1h-14zM1237 194h4v1h-4zM378 422h3v1h-3zM442 422h2v1h-2zM549 422h1v1h-1zM769 188h1v1h-1zM1023 188h2v1h-2zM777 180h1v1h-1zM1008 180h2v1h-2zM762 196h1v1h-1zM1069 196h4v1h-4zM1232 196h2v1h-2zM765 193h1v1h-1zM1045 193h4v1h-4zM1241 193h2v1h-2zM257 463h2v1h-2zM293 463h1v1h-1zM34 366h3v1h-3zM636 366h1v1h-1zM843 149h1v1h-1zM966 149h1v1h-1zM772 185h1v1h-1zM1016 185h2v1h-2zM809 168h3v1h-3zM989 168h2v1h-2zM32 367h2v1h-2zM37 367h4v1h-4zM635 367h1v1h-1zM909 122h4v1h-4zM919 122h6v1h-6zM877 129h4v1h-4zM946 129h1v1h-1zM274 469h5v1h-5zM837 154h2v1h-2zM971 154h2v1h-2zM1167 227h6v1h-6zM1185 227h2v1h-2zM885 127h4v1h-4zM942 127h2v1h-2zM741 221h1v1h-1zM1114 221h2v1h-2zM1195 221h2v1h-2zM2 384h2v1h-2zM143 384h2v1h-2zM153 384h6v1h-6zM163 384h2v1h-2zM584 384h2v1h-2zM872 131h2v1h-2zM948 131h1v1h-1zM768 189h1v1h-1zM1025 189h3v1h-3zM1085 203h2v1h-2zM1220 203h2v1h-2zM21 374h1v1h-1zM55 374h3v1h-3zM72 374h20v1h-20zM129 374h2v1h-2zM629 374h1v1h-1zM170 388h1v1h-1zM578 388h1v1h-1zM722 245h1v1h-1zM740 222h1v1h-1zM1116 222h2v1h-2zM1194 222h1v1h-1zM757 202h1v1h-1zM1084 202h1v1h-1zM1222 202h2v1h-2zM755 205h1v1h-1zM1088 205h1v1h-1zM1217 205h1v1h-1zM761 197h1v1h-1zM1073 197h3v1h-3zM1231 197h1v1h-1zM658 345h1v1h-1zM18 376h1v1h-1zM132 376h2v1h-2zM626 376h2v1h-2zM200 412h1v1h-1zM402 412h18v1h-18zM557 412h1v1h-1zM241 451h1v1h-1zM306 451h1v1h-1zM381 421h4v1h-4zM440 421h2v1h-2zM550 421h1v1h-1zM374 424h2v1h-2zM446 424h2v1h-2zM814 166h2v1h-2zM986 166h1v1h-1zM262 465h2v1h-2zM289 465h2v1h-2zM850 142h1v1h-1zM959 142h1v1h-1zM218 435h1v1h-1zM327 435h1v1h-1zM349 435h4v1h-4zM355 435h2v1h-2zM521 435h6v1h-6zM532 435h3v1h-3zM1109 218h2v1h-2zM1199 218h2v1h-2zM653 351h1v1h-1zM686 299h1v1h-1zM211 427h1v1h-1zM368 427h2v1h-2zM452 427h2v1h-2zM545 427h1v1h-1zM146 386h3v1h-3zM167 386h1v1h-1zM581 386h2v1h-2zM905 123h4v1h-4zM925 123h4v1h-4zM834 157h1v1h-1zM976 157h2v1h-2zM204 417h1v1h-1zM392 417h2v1h-2zM431 417h2v1h-2zM553 417h1v1h-1zM868 133h2v1h-2zM951 133h1v1h-1zM25 371h1v1h-1zM48 371h2v1h-2zM96 371h2v1h-2zM124 371h2v1h-2zM244 454h2v1h-2zM303 454h1v1h-1zM801 170h4v1h-4zM992 170h2v1h-2zM230 445h2v1h-2zM313 445h1v1h-1zM780 178h2v1h-2zM1004 178h2v1h-2zM183 398h2v1h-2zM567 398h1v1h-1zM202 414h1v1h-1zM398 414h2v1h-2zM423 414h2v1h-2zM14 378h2v1h-2zM135 378h1v1h-1zM622 378h2v1h-2zM210 426h1v1h-1zM370 426h2v1h-2zM450 426h2v1h-2zM546 426h1v1h-1zM196 408h1v1h-1zM560 408h1v1h-1zM252 460h2v1h-2zM297 460h1v1h-1zM681 306h1v1h-1zM267 467h4v1h-4zM284 467h3v1h-3zM791 173h2v1h-2zM997 173h1v1h-1zM650 354h1v1h-1zM830 159h2v1h-2zM979 159h1v1h-1zM797 171h4v1h-4zM994 171h1v1h-1zM823 162h2v1h-2zM982 162h1v1h-1zM849 143h1v1h-1zM960 143h1v1h-1zM825 161h3v1h-3zM981 161h1v1h-1zM195 407h1v1h-1zM213 429h1v1h-1zM365 429h2v1h-2zM456 429h2v1h-2zM463 429h5v1h-5zM543 429h1v1h-1zM750 211h1v1h-1zM1098 211h1v1h-1zM1210 211h1v1h-1zM250 459h2v1h-2zM298 459h1v1h-1zM396 415h2v1h-2zM425 415h3v1h-3zM641 362h1v1h-1zM661 340h1v1h-1zM753 207h1v1h-1zM1090 207h2v1h-2zM1215 207h1v1h-1zM259 464h3v1h-3zM291 464h2v1h-2zM739 223h1v1h-1zM1118 223h2v1h-2zM1192 223h2v1h-2zM689 295h1v1h-1zM1079 199h2v1h-2zM1227 199h2v1h-2zM735 228h1v1h-1zM1173 228h4v1h-4zM1181 228h4v1h-4zM239 450h2v1h-2zM307 450h1v1h-1zM19 375h2v1h-2zM58 375h14v1h-14zM131 375h1v1h-1zM628 375h1v1h-1zM243 453h1v1h-1zM304 453h1v1h-1zM232 446h1v1h-1zM311 446h2v1h-2zM746 215h1v1h-1zM1104 215h2v1h-2zM1203 215h2v1h-2zM16 377h2v1h-2zM134 377h1v1h-1zM624 377h2v1h-2zM865 134h3v1h-3zM952 134h1v1h-1zM763 195h1v1h-1zM1063 195h6v1h-6zM1234 195h3v1h-3zM716 253h1v1h-1zM858 136h3v1h-3zM954 136h1v1h-1zM751 210h1v1h-1zM1096 210h2v1h-2zM1211 210h1v1h-1zM179 395h2v1h-2zM191 404h2v1h-2zM254 461h1v1h-1zM295 461h2v1h-2zM197 409h1v1h-1zM559 409h1v1h-1zM168 387h2v1h-2zM579 387h2v1h-2zM820 163h3v1h-3zM983 163h1v1h-1zM208 423h1v1h-1zM376 423h2v1h-2zM444 423h2v1h-2zM206 420h1v1h-1zM385 420h3v1h-3zM438 420h2v1h-2zM551 420h1v1h-1zM828 160h2v1h-2zM980 160h1v1h-1zM394 416h2v1h-2zM428 416h3v1h-3zM554 416h1v1h-1zM738 224h1v1h-1zM1120 224h2v1h-2zM1143 224h8v1h-8zM1191 224h1v1h-1zM4 383h2v1h-2zM142 383h1v1h-1zM159 383h4v1h-4zM586 383h2v1h-2zM601 383h11v1h-11zM388 419h2v1h-2zM436 419h2v1h-2zM173 390h1v1h-1zM575 390h2v1h-2zM12 379h2v1h-2zM136 379h2v1h-2zM619 379h3v1h-3zM224 440h1v1h-1zM319 440h2v1h-2zM855 138h2v1h-2zM956 138h1v1h-1zM237 449h2v1h-2zM308 449h1v1h-1zM788 174h3v1h-3zM998 174h1v1h-1zM226 442h2v1h-2zM317 442h1v1h-1zM10 380h2v1h-2zM138 380h1v1h-1zM593 380h3v1h-3zM617 380h2v1h-2zM228 443h1v1h-1zM315 443h2v1h-2zM874 130h3v1h-3zM947 130h1v1h-1zM812 167h2v1h-2zM987 167h2v1h-2zM742 220h1v1h-1zM1112 220h2v1h-2zM1197 220h1v1h-1zM759 200h1v1h-1zM1081 200h2v1h-2zM1226 200h1v1h-1zM175 392h2v1h-2zM573 392h1v1h-1zM187 401h2v1h-2zM565 401h1v1h-1zM198 410h1v1h-1zM743 219h1v1h-1zM1111 219h1v1h-1zM1198 219h1v1h-1zM836 155h1v1h-1zM973 155h2v1h-2zM847 145h1v1h-1zM962 145h1v1h-1zM652 352h1v1h-1zM223 439h1v1h-1zM321 439h1v1h-1zM776 181h1v1h-1zM1010 181h1v1h-1zM782 177h2v1h-2zM1002 177h2v1h-2zM1107 217h2v1h-2zM1201 217h1v1h-1zM174 391h1v1h-1zM574 391h1v1h-1zM818 164h2v1h-2zM984 164h1v1h-1zM749 212h1v1h-1zM1099 212h2v1h-2zM1208 212h2v1h-2zM182 397h1v1h-1zM568 397h1v1h-1zM691 292h1v1h-1zM861 135h4v1h-4zM953 135h1v1h-1zM841 151h1v1h-1zM968 151h1v1h-1zM747 214h1v1h-1zM1103 214h1v1h-1zM1205 214h2v1h-2zM643 360h1v1h-1zM901 124h4v1h-4zM929 124h6v1h-6zM22 373h1v1h-1zM52 373h3v1h-3zM92 373h2v1h-2zM128 373h1v1h-1zM630 373h1v1h-1zM682 305h1v1h-1zM255 462h2v1h-2zM294 462h1v1h-1zM870 132h2v1h-2zM949 132h2v1h-2zM30 368h2v1h-2zM41 368h3v1h-3zM634 368h1v1h-1zM177 393h1v1h-1zM571 393h2v1h-2zM1094 209h2v1h-2zM1212 209h1v1h-1zM805 169h4v1h-4zM991 169h1v1h-1zM178 394h1v1h-1zM570 394h1v1h-1zM212 428h1v1h-1zM367 428h1v1h-1zM454 428h2v1h-2zM544 428h1v1h-1zM842 150h1v1h-1zM967 150h1v1h-1zM390 418h2v1h-2zM433 418h3v1h-3zM23 372h2v1h-2zM50 372h2v1h-2zM94 372h2v1h-2zM126 372h2v1h-2zM631 372h1v1h-1zM726 240h1v1h-1zM793 172h4v1h-4zM995 172h2v1h-2zM721 246h1v1h-1zM832 158h2v1h-2zM978 158h1v1h-1zM754 206h1v1h-1zM1089 206h1v1h-1zM1216 206h1v1h-1zM657 346h1v1h-1zM784 176h2v1h-2zM1001 176h1v1h-1zM748 213h1v1h-1zM1101 213h2v1h-2zM1207 213h1v1h-1zM857 137h1v1h-1zM955 137h1v1h-1zM846 146h1v1h-1zM963 146h1v1h-1zM649 355h1v1h-1zM638 364h1v1h-1zM709 262h1v1h-1zM247 456h1v1h-1zM301 456h1v1h-1zM773 184h1v1h-1zM1015 184h1v1h-1zM697 283h1v1h-1zM786 175h2v1h-2zM999 175h2v1h-2zM248 457h1v1h-1zM300 457h1v1h-1zM839 153h1v1h-1zM970 153h1v1h-1zM28 369h2v1h-2zM44 369h2v1h-2zM633 369h1v1h-1zM771 186h1v1h-1zM1018 186h2v1h-2zM201 413h1v1h-1zM400 413h2v1h-2zM420 413h3v1h-3zM556 413h1v1h-1zM844 148h1v1h-1zM965 148h1v1h-1zM235 448h2v1h-2zM309 448h1v1h-1zM663 337h1v1h-1zM728 237h1v1h-1zM913 121h6v1h-6zM723 244h1v1h-1zM644 359h1v1h-1zM1087 204h1v1h-1zM1218 204h2v1h-2zM778 179h2v1h-2zM1006 179h2v1h-2zM194 406h1v1h-1zM851 141h2v1h-2zM775 182h1v1h-1zM1011 182h2v1h-2zM687 298h1v1h-1zM881 128h4v1h-4zM944 128h2v1h-2zM656 347h1v1h-1zM848 144h1v1h-1zM961 144h1v1h-1zM651 353h1v1h-1zM731 233h1v1h-1zM249 458h1v1h-1zM299 458h1v1h-1zM670 325h1v1h-1zM221 438h2v1h-2zM322 438h1v1h-1zM189 402h1v1h-1zM564 402h1v1h-1zM190 403h1v1h-1zM666 332h1v1h-1zM699 280h1v1h-1zM767 190h1v1h-1zM1028 190h3v1h-3zM1076 198h3v1h-3zM1229 198h2v1h-2zM774 183h1v1h-1zM1013 183h2v1h-2zM845 147h1v1h-1zM964 147h1v1h-1zM835 156h1v1h-1zM975 156h1v1h-1zM220 437h1v1h-1zM323 437h2v1h-2zM1092 208h2v1h-2zM1213 208h2v1h-2zM1031 191h2v1h-2zM185 399h1v1h-1zM186 400h1v1h-1zM646 357h2v1h-2zM693 289h1v1h-1zM725 241h1v1h-1zM745 216h1v1h-1zM1106 216h1v1h-1zM1202 216h1v1h-1zM713 257h1v1h-1zM181 396h1v1h-1zM648 356h1v1h-1zM637 365h1v1h-1zM816 165h2v1h-2zM985 165h1v1h-1zM732 232h1v1h-1zM840 152h1v1h-1zM969 152h1v1h-1zM695 286h1v1h-1zM639 363h2v1h-2zM715 254h1v1h-1zM710 261h1v1h-1zM679 309h1v1h-1zM655 348h1v1h-1zM233 447h2v1h-2zM310 447h1v1h-1zM675 316h1v1h-1zM242 452h1v1h-1zM305 452h1v1h-1zM718 250h1v1h-1zM729 236h1v1h-1zM229 444h1v1h-1zM314 444h1v1h-1zM701 277h1v1h-1zM853 140h1v1h-1zM645 358h1v1h-1zM199 411h1v1h-1zM642 361h1v1h-1zM712 258h1v1h-1zM225 441h1v1h-1zM318 441h1v1h-1zM684 302h1v1h-1zM719 249h1v1h-1z"/>
<path fill="#ffa500" d="M651 316h1v2h-1zM931 140h1v2h-1zM673 254h1v3h-1zM774 157h1v3h-1zM436 425h1v4h-1zM20 368h1v2h-1zM489 437h1v4h-1zM480 469h1v3h-1zM237 483h1v2h-1zM390 395h1v2h-1zM295 424h1v2h-1zM171 393h1v2h-1zM1124 246h1v3h-1zM3 400h1v2h-1zM1136 221h1v2h-1zM758 189h1v2h-1zM428 398h1v3h-1zM374 428h1v2h-1zM386 403h1v2h-1zM1076 212h1v2h-1zM429 401h1v4h-1zM198 465h1v4h-1zM178 409h1v3h-1zM1132 228h1v2h-1zM955 186h1v2h-1zM199 469h1v3h-1zM184 424h1v3h-1zM685 217h1v3h-1zM846 136h1v2h-1zM500 401h1v2h-1zM1083 227h1v3h-1zM1128 236h1v3h-1zM64 364h1v2h-1zM1171 197h1v2h-1zM65 366h1v2h-1zM1217 199h1v2h-1zM209 496h1v2h-1zM672 257h1v4h-1zM940 156h1v2h-1zM671 261h1v3h-1zM194 451h1v3h-1zM19 370h1v2h-1zM488 441h1v3h-1zM679 235h1v3h-1zM646 324h1v2h-1zM336 427h1v2h-1zM442 445h1v3h-1zM15 378h1v2h-1zM659 299h1v3h-1zM948 173h1v2h-1zM385 405h1v2h-1zM642 331h1v2h-1zM676 245h1v3h-1zM667 274h1v4h-1zM483 458h1v4h-1zM684 220h1v3h-1zM845 138h1v2h-1zM452 471h1v3h-1zM683 223h1v3h-1zM499 403h1v2h-1zM929 137h1v2h-1zM455 481h1v3h-1zM169 389h1v2h-1zM172 395h1v2h-1zM496 412h1v4h-1zM508 386h1v2h-1zM710 191h1v2h-1zM179 412h1v2h-1zM427 394h1v4h-1zM688 208h1v3h-1zM658 302h1v2h-1zM183 422h1v2h-1zM641 333h1v2h-1zM958 190h1v2h-1zM922 123h1v2h-1zM665 281h1v3h-1zM66 368h1v2h-1zM491 430h1v4h-1zM1142 212h1v2h-1zM207 492h1v2h-1zM481 465h1v4h-1zM393 389h1v2h-1zM682 226h1v3h-1zM939 154h1v2h-1zM638 340h1v3h-1zM193 448h1v3h-1zM662 290h1v3h-1zM74 384h1v2h-1zM389 397h1v2h-1zM338 431h1v2h-1zM377 421h1v2h-1zM335 425h1v2h-1zM670 264h1v3h-1zM441 442h1v3h-1zM946 169h1v2h-1zM507 388h1v2h-1zM669 267h1v4h-1zM949 175h1v2h-1zM910 104h1v2h-1zM447 457h1v3h-1zM486 448h1v3h-1zM430 405h1v3h-1zM24 360h1v2h-1zM503 395h1v2h-1zM433 415h1v4h-1zM451 467h1v4h-1zM203 483h1v2h-1zM763 182h1v2h-1zM1091 248h1v2h-1zM1230 183h1v2h-1zM196 458h1v4h-1zM942 160h1v3h-1zM388 399h1v2h-1zM292 430h1v2h-1zM668 271h1v3h-1zM485 451h1v4h-1zM475 485h1v4h-1zM1121 253h1v2h-1zM750 198h1v2h-1zM697 191h1v2h-1zM923 125h1v2h-1zM54 350h1v2h-1zM1222 193h1v2h-1zM920 119h1v2h-1zM628 356h1v2h-1zM23 362h1v2h-1zM1233 179h1v2h-1zM762 184h1v2h-1zM32 344h1v2h-1zM72 380h1v2h-1zM457 487h1v4h-1zM422 387h1v2h-1zM1009 183h1v2h-1zM291 432h1v2h-1zM446 455h1v2h-1zM1079 218h1v2h-1zM1005 189h1v2h-1zM493 423h1v3h-1zM1080 220h1v2h-1zM696 193h1v2h-1zM432 412h1v3h-1zM370 437h1v2h-1zM382 411h1v2h-1zM205 487h1v2h-1zM202 480h1v3h-1zM692 200h1v2h-1zM191 443h1v3h-1zM68 372h1v2h-1zM1090 246h1v2h-1zM842 144h1v2h-1zM18 372h1v2h-1zM31 346h1v2h-1zM944 165h1v2h-1zM1212 207h1v2h-1zM478 475h1v4h-1zM195 454h1v4h-1zM1068 200h1v2h-1zM781 143h1v2h-1zM1072 205h1v2h-1zM347 445h1v2h-1zM350 449h1v2h-1zM961 194h1v2h-1zM27 354h1v2h-1zM777 150h1v2h-1zM655 308h1v2h-1zM381 413h1v2h-1zM999 198h1v2h-1zM1127 239h1v2h-1zM438 432h1v3h-1zM512 380h1v2h-1zM691 202h1v2h-1zM995 204h1v2h-1zM173 397h1v3h-1zM1078 216h1v2h-1zM767 174h1v2h-1zM180 414h1v3h-1zM242 474h1v2h-1zM48 343h1v2h-1zM564 382h1v2h-1zM776 152h1v3h-1zM1085 232h1v3h-1zM654 310h1v2h-1zM238 481h1v2h-1zM296 422h1v2h-1zM67 370h1v2h-1zM70 376h1v2h-1zM210 498h1v2h-1zM190 440h1v3h-1zM560 388h1v2h-1zM1177 207h1v2h-1zM637 343h1v2h-1zM331 416h1v2h-1zM376 423h1v2h-1zM454 477h1v4h-1zM437 429h1v3h-1zM4 398h1v2h-1zM118 383h1v2h-1zM559 390h1v2h-1zM426 392h1v2h-1zM233 491h1v2h-1zM771 165h1v2h-1zM555 397h1v2h-1zM185 427h1v2h-1zM330 414h1v2h-1zM1176 205h1v2h-1zM236 485h1v2h-1zM941 158h1v2h-1zM337 429h1v2h-1zM770 167h1v3h-1zM952 181h1v2h-1zM449 462h1v2h-1zM966 200h1v2h-1zM778 148h1v2h-1zM61 359h1v2h-1zM453 474h1v3h-1zM664 284h1v3h-1zM456 484h1v3h-1zM487 444h1v4h-1zM30 348h1v2h-1zM838 149h1v2h-1zM769 170h1v2h-1zM14 380h1v2h-1zM675 248h1v3h-1zM10 388h1v2h-1zM398 383h1v2h-1zM6 395h1v2h-1zM1139 216h1v2h-1zM1123 249h1v2h-1zM1135 223h1v2h-1zM950 177h1v2h-1zM687 211h1v3h-1zM25 358h1v2h-1zM568 377h1v2h-1zM373 430h1v3h-1zM849 130h1v2h-1zM448 460h1v2h-1zM1131 230h1v2h-1zM1082 224h1v3h-1zM9 390h1v2h-1zM204 485h1v2h-1zM653 312h1v2h-1zM490 434h1v3h-1zM936 148h1v2h-1zM649 319h1v2h-1zM1092 250h1v2h-1zM661 293h1v3h-1zM678 238h1v3h-1zM1227 187h1v2h-1zM1122 251h1v2h-1zM372 433h1v2h-1zM686 214h1v3h-1zM384 407h1v2h-1zM848 132h1v2h-1zM44 338h1v2h-1zM502 397h1v2h-1zM1118 257h1v2h-1zM924 127h1v2h-1zM1238 173h1v2h-1zM1130 232h1v2h-1zM368 440h1v2h-1zM844 140h1v2h-1zM498 405h1v3h-1zM660 296h1v3h-1zM648 321h1v2h-1zM175 402h1v3h-1zM677 241h1v4h-1zM916 112h1v2h-1zM644 327h1v2h-1zM371 435h1v2h-1zM383 409h1v2h-1zM847 134h1v2h-1zM640 335h1v3h-1zM1129 234h1v2h-1zM693 198h1v2h-1zM843 142h1v2h-1zM681 229h1v3h-1zM497 408h1v4h-1zM192 446h1v2h-1zM69 374h1v2h-1zM1094 253h1v2h-1zM333 420h1v2h-1zM492 426h1v4h-1zM639 338h1v2h-1zM435 422h1v3h-1zM915 110h1v2h-1zM631 352h1v2h-1zM26 356h1v2h-1zM474 489h1v2h-1zM187 432h1v3h-1zM259 456h1v2h-1zM1086 235h1v3h-1zM22 364h1v2h-1zM71 378h1v2h-1zM773 160h1v2h-1zM332 418h1v2h-1zM1096 256h1v2h-1zM943 163h1v2h-1zM495 416h1v3h-1zM353 453h1v2h-1zM434 419h1v3h-1zM674 251h1v3h-1zM695 195h1v2h-1zM21 366h1v2h-1zM932 142h1v2h-1zM17 374h1v2h-1zM115 387h1v2h-1zM1211 209h1v2h-1zM477 479h1v3h-1zM494 419h1v4h-1zM200 472h1v4h-1zM186 429h1v3h-1zM380 415h1v2h-1zM164 381h1v2h-1zM1214 204h1v2h-1zM1126 241h1v3h-1zM690 204h1v2h-1zM16 376h1v2h-1zM443 448h1v2h-1zM476 482h1v3h-1zM341 436h1v2h-1zM450 464h1v3h-1zM766 176h1v2h-1zM1001 195h1v2h-1zM1145 208h1v2h-1zM62 361h1v2h-1zM1087 238h1v3h-1zM206 489h1v3h-1zM934 145h1v2h-1zM379 417h1v2h-1zM937 150h1v2h-1zM997 201h1v2h-1zM689 206h1v2h-1zM375 425h1v3h-1zM505 391h1v2h-1zM765 178h1v2h-1zM926 131h1v2h-1zM240 477h1v2h-1zM663 287h1v3h-1zM479 472h1v3h-1zM680 232h1v3h-1zM294 426h1v2h-1zM339 433h1v2h-1zM343 439h1v2h-1zM951 179h1v2h-1zM504 393h1v2h-1zM431 408h1v4h-1zM263 451h1v2h-1zM201 476h1v4h-1zM60 357h1v2h-1zM764 180h1v2h-1zM1216 201h1v2h-1zM772 162h1v3h-1zM785 137h1v2h-1zM293 428h1v2h-1zM1007 186h1v2h-1zM1003 192h1v2h-1zM666 278h1v3h-1zM925 129h1v2h-1zM482 462h1v3h-1zM33 342h1v2h-1zM168 387h1v2h-1zM458 491h1v2h-1zM29 350h1v2h-1zM345 442h1v2h-1zM13 382h1v2h-1zM917 114h1v2h-1zM182 419h1v3h-1zM1081 222h1v2h-1zM657 304h1v2h-1zM392 391h1v2h-1zM510 383h1v2h-1zM334 422h1v3h-1zM945 167h1v2h-1zM28 352h1v2h-1zM245 470h1v2h-1zM656 306h1v2h-1zM513 378h1v2h-1zM652 314h1v2h-1zM167 385h1v2h-1zM378 419h1v2h-1zM439 435h1v3h-1zM391 393h1v2h-1zM174 400h1v2h-1zM248 466h1v2h-1zM387 401h1v2h-1zM919 117h1v2h-1zM484 455h1v3h-1zM181 417h1v2h-1zM501 399h1v2h-1zM239 479h1v2h-1zM121 379h1v2h-1zM561 386h1v2h-1zM634 348h1v2h-1zM1097 258h1v2h-1zM557 393h1v2h-1zM445 452h1v3h-1zM1075 210h1v2h-1zM643 329h1v2h-1zM1115 261h1v2h-1zM1174 202h1v2h-1zM1089 243h1v3h-1zM208 494h1v2h-1zM234 489h1v2h-1zM556 395h1v2h-1zM197 462h1v3h-1zM518 381h1v2h-1zM928 135h1v2h-1zM440 438h1v4h-1zM783 140h1v2h-1zM1077 214h1v2h-1zM444 450h1v2h-1zM1074 208h1v2h-1zM12 384h1v2h-1zM1150 202h1v2h-1zM779 146h1v2h-1zM953 183h1v2h-1zM1084 230h1v2h-1zM1172 199h1v2h-1zM189 437h1v3h-1zM1088 241h1v2h-1zM938 152h1v2h-1zM636 345h1v2h-1zM1125 244h1v2h-1zM11 386h1v2h-1zM927 133h1v2h-1zM170 391h1v2h-1zM177 407h1v2h-1zM188 435h1v2h-1zM235 487h1v2h-1zM947 171h1v2h-1zM176 405h1v2h-1zM768 172h1v2h-1zM921 121h1v2h-1zM73 382h1v2h-1zM364 445h1v2h-1zM8 392h1v2h-1zM775 155h1v2h-1zM1137 219h1v2h-1zM1133 226h1v2h-1zM809 138h1v1h-1zM786 136h1v1h-1zM807 136h1v1h-1zM145 380h3v1h-3zM163 380h1v1h-1zM401 380h1v1h-1zM412 380h2v1h-2zM517 380h1v1h-1zM566 380h1v1h-1zM80 390h1v1h-1zM97 390h1v1h-1zM103 390h8v1h-8zM424 390h1v1h-1zM506 390h1v1h-1zM527 390h1v1h-1zM698 190h2v1h-2zM709 190h1v1h-1zM1055 190h4v1h-4zM1225 190h1v1h-1zM821 148h1v1h-1zM839 148h1v1h-1zM230 495h1v1h-1zM464 495h2v1h-2zM467 495h2v1h-2zM954 185h1v1h-1zM1008 185h1v1h-1zM1039 185h1v1h-1zM1229 185h1v1h-1zM141 379h4v1h-4zM148 379h2v1h-2zM161 379h2v1h-2zM402 379h10v1h-10zM516 379h1v1h-1zM567 379h1v1h-1zM284 438h1v1h-1zM342 438h1v1h-1zM241 476h1v1h-1zM1026 175h1v1h-1zM1237 175h1v1h-1zM261 454h1v1h-1zM355 454h1v1h-1zM733 203h4v1h-4zM743 203h4v1h-4zM968 203h1v1h-1zM996 203h1v1h-1zM1070 203h1v1h-1zM1215 203h1v1h-1zM1019 179h2v1h-2zM1032 179h2v1h-2zM1104 264h2v1h-2zM1109 264h4v1h-4zM577 373h3v1h-3zM601 373h1v1h-1zM612 373h1v1h-1zM984 213h2v1h-2zM987 213h1v1h-1zM1183 213h2v1h-2zM1193 213h6v1h-6zM1204 213h3v1h-3zM117 385h1v1h-1zM397 385h1v1h-1zM420 385h1v1h-1zM509 385h1v1h-1zM521 385h1v1h-1zM562 385h1v1h-1zM262 453h1v1h-1zM356 453h1v1h-1zM721 198h3v1h-3zM964 198h1v1h-1zM1066 198h1v1h-1zM1154 198h2v1h-2zM1218 198h1v1h-1zM252 463h1v1h-1zM974 207h2v1h-2zM993 207h1v1h-1zM1073 207h1v1h-1zM1146 207h1v1h-1zM7 394h1v1h-1zM85 394h4v1h-4zM91 394h2v1h-2zM531 394h1v1h-1zM1021 178h2v1h-2zM1031 178h1v1h-1zM1234 178h1v1h-1zM215 503h2v1h-2zM221 503h1v1h-1zM694 197h1v1h-1zM717 197h4v1h-4zM751 197h1v1h-1zM963 197h1v1h-1zM1000 197h1v1h-1zM1065 197h1v1h-1zM1156 197h3v1h-3zM1219 197h1v1h-1zM351 451h1v1h-1zM359 451h1v1h-1zM304 415h1v1h-1zM322 415h5v1h-5zM256 460h1v1h-1zM122 378h1v1h-1zM137 378h4v1h-4zM150 378h2v1h-2zM159 378h2v1h-2zM515 378h1v1h-1zM211 500h2v1h-2zM225 500h1v1h-1zM51 347h1v1h-1zM635 347h1v1h-1zM591 368h2v1h-2zM595 368h1v1h-1zM617 368h1v1h-1zM724 199h2v1h-2zM965 199h1v1h-1zM1067 199h1v1h-1zM1153 199h1v1h-1zM126 375h2v1h-2zM130 375h2v1h-2zM570 375h3v1h-3zM607 375h4v1h-4zM313 411h3v1h-3zM120 381h1v1h-1zM400 381h1v1h-1zM414 381h2v1h-2zM565 381h1v1h-1zM35 340h2v1h-2zM45 340h1v1h-1zM1024 176h2v1h-2zM1027 176h2v1h-2zM1236 176h1v1h-1zM820 147h1v1h-1zM840 147h1v1h-1zM935 147h1v1h-1zM793 130h1v1h-1zM797 130h4v1h-4zM713 195h1v1h-1zM753 195h1v1h-1zM1063 195h1v1h-1zM1161 195h6v1h-6zM1221 195h1v1h-1zM307 413h2v1h-2zM318 413h2v1h-2zM647 323h1v1h-1zM275 442h3v1h-3zM367 442h1v1h-1zM737 204h6v1h-6zM969 204h1v1h-1zM1071 204h1v1h-1zM1149 204h1v1h-1zM1175 204h1v1h-1zM902 103h1v1h-1zM909 103h1v1h-1zM58 355h1v1h-1zM629 355h1v1h-1zM78 389h2v1h-2zM98 389h5v1h-5zM111 389h4v1h-4zM423 389h1v1h-1zM525 389h2v1h-2zM585 370h3v1h-3zM597 370h2v1h-2zM615 370h1v1h-1zM970 205h2v1h-2zM1148 205h1v1h-1zM789 133h2v1h-2zM804 133h1v1h-1zM125 376h1v1h-1zM132 376h3v1h-3zM154 376h2v1h-2zM569 376h1v1h-1zM730 202h3v1h-3zM747 202h1v1h-1zM967 202h1v1h-1zM1069 202h1v1h-1zM700 189h3v1h-3zM708 189h1v1h-1zM957 189h1v1h-1zM1047 189h8v1h-8zM1226 189h1v1h-1zM244 472h1v1h-1zM264 450h1v1h-1zM360 450h1v1h-1zM979 210h2v1h-2zM990 210h1v1h-1zM1144 210h1v1h-1zM1179 210h2v1h-2zM981 211h2v1h-2zM989 211h1v1h-1zM1143 211h1v1h-1zM1181 211h1v1h-1zM1209 211h2v1h-2zM703 188h2v1h-2zM707 188h1v1h-1zM759 188h1v1h-1zM956 188h1v1h-1zM1006 188h1v1h-1zM1042 188h5v1h-5zM1010 182h3v1h-3zM1036 182h1v1h-1zM1231 182h1v1h-1zM901 104h1v1h-1zM83 393h2v1h-2zM93 393h1v1h-1zM530 393h1v1h-1zM123 377h2v1h-2zM135 377h2v1h-2zM152 377h2v1h-2zM156 377h3v1h-3zM514 377h1v1h-1zM128 374h2v1h-2zM573 374h4v1h-4zM602 374h5v1h-5zM611 374h1v1h-1zM794 129h3v1h-3zM850 129h1v1h-1zM165 383h1v1h-1zM418 383h1v1h-1zM519 383h1v1h-1zM268 447h1v1h-1zM348 447h1v1h-1zM363 447h1v1h-1zM983 212h1v1h-1zM988 212h1v1h-1zM1182 212h1v1h-1zM1207 212h2v1h-2zM280 440h2v1h-2zM905 101h1v1h-1zM907 101h1v1h-1zM880 106h2v1h-2zM884 106h2v1h-2zM897 106h2v1h-2zM911 106h1v1h-1zM459 492h1v1h-1zM471 492h2v1h-2zM1017 180h2v1h-2zM1034 180h1v1h-1zM285 437h2v1h-2zM714 196h3v1h-3zM752 196h1v1h-1zM962 196h1v1h-1zM1064 196h1v1h-1zM1159 196h2v1h-2zM1167 196h4v1h-4zM1220 196h1v1h-1zM627 358h1v1h-1zM50 346h1v1h-1zM166 384h1v1h-1zM419 384h1v1h-1zM520 384h1v1h-1zM563 384h1v1h-1zM298 420h1v1h-1zM903 102h2v1h-2zM908 102h1v1h-1zM288 435h2v1h-2zM340 435h1v1h-1zM784 139h1v1h-1zM810 139h1v1h-1zM930 139h1v1h-1zM232 493h1v1h-1zM460 493h2v1h-2zM470 493h1v1h-1zM624 361h1v1h-1zM782 142h1v1h-1zM814 142h1v1h-1zM309 412h4v1h-4zM316 412h2v1h-2zM976 208h2v1h-2zM992 208h1v1h-1zM819 146h1v1h-1zM841 146h1v1h-1zM537 400h1v1h-1zM543 400h8v1h-8zM761 186h1v1h-1zM1040 186h1v1h-1zM1228 186h1v1h-1zM757 191h1v1h-1zM1004 191h1v1h-1zM1059 191h1v1h-1zM1224 191h1v1h-1zM119 382h1v1h-1zM399 382h1v1h-1zM416 382h2v1h-2zM511 382h1v1h-1zM580 372h3v1h-3zM600 372h1v1h-1zM613 372h1v1h-1zM273 443h2v1h-2zM366 443h1v1h-1zM1240 171h1v1h-1zM857 122h1v1h-1zM89 395h2v1h-2zM532 395h1v1h-1zM826 153h5v1h-5zM835 153h1v1h-1zM986 214h1v1h-1zM1141 214h1v1h-1zM1185 214h1v1h-1zM1189 214h4v1h-4zM1199 214h5v1h-5zM77 388h1v1h-1zM394 388h1v1h-1zM524 388h1v1h-1zM815 143h2v1h-2zM82 392h1v1h-1zM94 392h1v1h-1zM529 392h1v1h-1zM558 392h1v1h-1zM877 108h2v1h-2zM888 108h2v1h-2zM892 108h3v1h-3zM913 108h1v1h-1zM817 144h1v1h-1zM933 144h1v1h-1zM536 399h1v1h-1zM551 399h4v1h-4zM290 434h1v1h-1zM282 439h2v1h-2zM369 439h1v1h-1zM302 417h1v1h-1zM260 455h1v1h-1zM354 455h1v1h-1zM854 125h1v1h-1zM1038 184h1v1h-1zM538 401h5v1h-5zM882 105h2v1h-2zM899 105h2v1h-2zM352 452h1v1h-1zM357 452h2v1h-2zM305 414h2v1h-2zM320 414h2v1h-2zM327 414h3v1h-3zM1023 177h1v1h-1zM1029 177h2v1h-2zM1235 177h1v1h-1zM978 209h1v1h-1zM991 209h1v1h-1zM1178 209h1v1h-1zM588 369h3v1h-3zM596 369h1v1h-1zM616 369h1v1h-1zM213 501h1v1h-1zM223 501h2v1h-2zM247 468h1v1h-1zM63 363h1v1h-1zM622 363h1v1h-1zM227 498h1v1h-1zM711 193h1v1h-1zM755 193h1v1h-1zM960 193h1v1h-1zM1061 193h1v1h-1zM1098 260h1v1h-1zM1116 260h1v1h-1zM619 366h1v1h-1zM1106 265h3v1h-3zM37 339h2v1h-2zM42 336h1v1h-1zM869 114h2v1h-2zM728 201h2v1h-2zM748 201h1v1h-1zM1151 201h1v1h-1zM1173 201h1v1h-1zM873 111h1v1h-1zM278 441h2v1h-2zM344 441h1v1h-1zM788 134h1v1h-1zM805 134h1v1h-1zM879 107h1v1h-1zM886 107h2v1h-2zM895 107h2v1h-2zM912 107h1v1h-1zM2 402h1v1h-1zM254 461h2v1h-2zM811 140h2v1h-2zM726 200h2v1h-2zM749 200h1v1h-1zM998 200h1v1h-1zM1152 200h1v1h-1zM1099 261h2v1h-2zM258 458h1v1h-1zM229 496h1v1h-1zM466 496h1v1h-1zM34 341h1v1h-1zM46 341h1v1h-1zM972 206h2v1h-2zM994 206h1v1h-1zM1147 206h1v1h-1zM1213 206h1v1h-1zM250 464h2v1h-2zM831 154h4v1h-4zM231 494h1v1h-1zM462 494h2v1h-2zM469 494h1v1h-1zM792 131h1v1h-1zM801 131h2v1h-2zM266 448h2v1h-2zM349 448h1v1h-1zM362 448h1v1h-1zM52 348h1v1h-1zM852 127h1v1h-1zM756 192h1v1h-1zM959 192h1v1h-1zM1060 192h1v1h-1zM1223 192h1v1h-1zM875 109h2v1h-2zM890 109h2v1h-2zM914 109h1v1h-1zM53 349h1v1h-1zM270 445h2v1h-2zM1013 181h4v1h-4zM1035 181h1v1h-1zM1232 181h1v1h-1zM272 444h1v1h-1zM346 444h1v1h-1zM365 444h1v1h-1zM59 356h1v1h-1zM1119 256h1v1h-1zM1239 172h1v1h-1zM822 149h1v1h-1zM1140 215h1v1h-1zM1186 215h3v1h-3zM300 418h2v1h-2zM626 359h1v1h-1zM533 396h1v1h-1zM824 151h1v1h-1zM837 151h1v1h-1zM81 391h1v1h-1zM95 391h2v1h-2zM425 391h1v1h-1zM528 391h1v1h-1zM218 505h1v1h-1zM40 337h2v1h-2zM43 337h1v1h-1zM583 371h2v1h-2zM599 371h1v1h-1zM614 371h1v1h-1zM5 397h1v1h-1zM534 397h1v1h-1zM214 502h1v1h-1zM222 502h1v1h-1zM246 469h1v1h-1zM75 386h1v1h-1zM116 386h1v1h-1zM396 386h1v1h-1zM421 386h1v1h-1zM522 386h1v1h-1zM705 187h2v1h-2zM760 187h1v1h-1zM1041 187h1v1h-1zM632 351h1v1h-1zM864 118h2v1h-2zM645 326h1v1h-1zM1134 225h1v1h-1zM297 421h1v1h-1zM217 504h1v1h-1zM219 504h2v1h-2zM1138 218h1v1h-1zM249 465h1v1h-1zM621 364h1v1h-1zM55 352h1v1h-1zM253 462h1v1h-1zM856 123h1v1h-1zM868 115h1v1h-1zM860 120h2v1h-2zM712 194h1v1h-1zM754 194h1v1h-1zM1002 194h1v1h-1zM1062 194h1v1h-1zM787 135h1v1h-1zM806 135h1v1h-1zM866 117h1v1h-1zM1241 170h1v1h-1zM257 459h1v1h-1zM1095 255h1v1h-1zM1120 255h1v1h-1zM1101 262h2v1h-2zM1103 263h1v1h-1zM1113 263h2v1h-2zM862 119h2v1h-2zM851 128h1v1h-1zM47 342h1v1h-1zM76 387h1v1h-1zM395 387h1v1h-1zM523 387h1v1h-1zM243 473h1v1h-1zM287 436h1v1h-1zM299 419h1v1h-1zM303 416h1v1h-1zM623 362h1v1h-1zM593 367h2v1h-2zM618 367h1v1h-1zM39 338h1v1h-1zM858 121h2v1h-2zM535 398h1v1h-1zM823 150h1v1h-1zM228 497h1v1h-1zM1093 252h1v1h-1zM56 353h1v1h-1zM808 137h1v1h-1zM867 116h1v1h-1zM918 116h1v1h-1zM57 354h1v1h-1zM630 354h1v1h-1zM853 126h1v1h-1zM49 345h1v1h-1zM872 112h1v1h-1zM791 132h1v1h-1zM803 132h1v1h-1zM265 449h1v1h-1zM361 449h1v1h-1zM269 446h1v1h-1zM226 499h1v1h-1zM780 145h1v1h-1zM818 145h1v1h-1zM1037 183h1v1h-1zM625 360h1v1h-1zM473 491h1v1h-1zM825 152h1v1h-1zM836 152h1v1h-1zM650 318h1v1h-1zM906 100h1v1h-1zM633 350h1v1h-1zM813 141h1v1h-1zM1117 259h1v1h-1zM620 365h1v1h-1zM874 110h1v1h-1zM855 124h1v1h-1zM1242 169h1v1h-1zM871 113h1v1h-1z"/>
<rect x="2" y="78" width="1576" height="2" fill="#ff0000"/>
<rect x="1" y="76" width="6" height="6" fill="#ff0000"/><rect x="3" y="78" width="2" height="2" fill="#fff"/>
<rect x="1572" y="76" width="6" height="6" fill="#ff0000"/><rect x="1574" y="78" width="2" height="2" fill="#fff"/>
<rect x="2" y="143" width="1576" height="2" fill="#ff0000"/>
<rect x="1" y="141" width="6" height="6" fill="#ff0000"/><rect x="3" y="143" width="2" height="2" fill="#fff"/>
<rect x="1572" y="141" width="6" height="6" fill="#ff0000"/><rect x="1574" y="143" width="2" height="2" fill="#fff"/>
<rect x="2" y="209" width="1576" height="2" fill="#00ff00"/>
<rect x="1" y="207" width="6" height="6" fill="#00ff00"/><rect x="3" y="209" width="2" height="2" fill="#fff"/>
<rect x="1572" y="207" width="6" height="6" fill="#00ff00"/><rect x="1574" y="209" width="2" height="2" fill="#fff"/>
<rect x="2" y="273" width="1576" height="2" fill="#0000ff"/>
<rect x="1" y="271" width="6" height="6" fill="#0000ff"/><rect x="3" y="273" width="2" height="2" fill="#fff"/>
<rect x="1572" y="271" width="6" height="6" fill="#0000ff"/><rect x="1574" y="273" width="2" height="2" fill="#fff"/>
<rect x="2" y="339" width="1576" height="2" fill="#0000ff"/>
<rect x="1" y="337" width="6" height="6" fill="#0000ff"/><rect x="3" y="339" width="2" height="2" fill="#fff"/>
<rect x="1572" y="337" width="6" height="6" fill="#0000ff"/><rect x="1574" y="339" width="2" height="2" fill="#fff"/>
</g>
<g class="c">
<line x1="3" x2="1578" y1="581.5" y2="581.5" stroke="#c0c0c0" stroke-width="1" stroke-dasharray="3 3"/>
<line x1="3" x2="1578" y1="618.5" y2="618.5" stroke="#c0c0c0" stroke-width="1" stroke-dasharray="3 3"/>
</g><g class="c">
<path fill="#1e90ff" d="M39 591h1v2h-1zM459 610h1v2h-1zM40 593h1v2h-1zM857 586h1v2h-1zM165 600h1v2h-1zM1230 593h1v2h-1zM974 607h1v2h-1zM1172 600h1v2h-1zM476 600h1v2h-1zM918 599h1v2h-1zM41 595h1v2h-1zM465 602h1v2h-1zM480 595h1v2h-1zM35 584h1v2h-1zM167 603h1v2h-1zM37 588h1v2h-1zM854 582h1v2h-1zM1176 605h1v2h-1zM169 606h1v2h-1zM851 578h1v2h-1zM462 606h1v2h-1zM36 586h1v2h-1zM163 597h1v2h-1zM665 577h3v1h-3zM687 577h13v1h-13zM767 577h2v1h-2zM783 577h4v1h-4zM850 577h1v1h-1zM22 585h2v1h-2zM647 585h4v1h-4zM714 585h2v1h-2zM728 585h2v1h-2zM735 585h8v1h-8zM798 585h1v1h-1zM833 585h3v1h-3zM856 585h1v1h-1zM887 585h5v1h-5zM47 598h8v1h-8zM60 598h2v1h-2zM73 598h3v1h-3zM92 598h1v1h-1zM106 598h10v1h-10zM135 598h6v1h-6zM150 598h2v1h-2zM264 598h1v1h-1zM279 598h6v1h-6zM292 598h1v1h-1zM317 598h2v1h-2zM360 598h1v1h-1zM422 598h1v1h-1zM478 598h1v1h-1zM518 598h1v1h-1zM528 598h2v1h-2zM600 598h2v1h-2zM603 598h2v1h-2zM917 598h1v1h-1zM999 598h2v1h-2zM1007 598h4v1h-4zM1026 598h1v1h-1zM1126 598h2v1h-2zM1145 598h12v1h-12zM1169 598h2v1h-2zM1193 598h1v1h-1zM1199 598h6v1h-6zM1226 598h1v1h-1zM663 578h2v1h-2zM700 578h2v1h-2zM764 578h3v1h-3zM787 578h2v1h-2zM848 578h2v1h-2zM80 601h2v1h-2zM85 601h4v1h-4zM239 601h2v1h-2zM243 601h2v1h-2zM261 601h1v1h-1zM321 601h1v1h-1zM327 601h4v1h-4zM357 601h1v1h-1zM425 601h1v1h-1zM466 601h3v1h-3zM522 601h2v1h-2zM919 601h1v1h-1zM993 601h1v1h-1zM1015 601h1v1h-1zM1021 601h2v1h-2zM1029 601h1v1h-1zM1044 601h3v1h-3zM1057 601h3v1h-3zM1121 601h1v1h-1zM1189 601h1v1h-1zM42 597h5v1h-5zM62 597h2v1h-2zM71 597h2v1h-2zM93 597h2v1h-2zM104 597h2v1h-2zM116 597h2v1h-2zM129 597h6v1h-6zM152 597h2v1h-2zM265 597h1v1h-1zM271 597h8v1h-8zM293 597h2v1h-2zM316 597h1v1h-1zM361 597h1v1h-1zM421 597h1v1h-1zM479 597h1v1h-1zM517 597h1v1h-1zM530 597h5v1h-5zM599 597h1v1h-1zM605 597h1v1h-1zM916 597h1v1h-1zM1001 597h6v1h-6zM1128 597h2v1h-2zM1141 597h4v1h-4zM1157 597h4v1h-4zM1165 597h4v1h-4zM1194 597h5v1h-5zM1205 597h4v1h-4zM1224 597h2v1h-2zM1227 597h1v1h-1zM64 596h2v1h-2zM68 596h3v1h-3zM95 596h1v1h-1zM103 596h1v1h-1zM118 596h2v1h-2zM127 596h2v1h-2zM154 596h9v1h-9zM266 596h5v1h-5zM295 596h1v1h-1zM315 596h1v1h-1zM362 596h2v1h-2zM410 596h3v1h-3zM420 596h1v1h-1zM515 596h2v1h-2zM535 596h8v1h-8zM597 596h2v1h-2zM606 596h1v1h-1zM915 596h1v1h-1zM1130 596h11v1h-11zM1161 596h4v1h-4zM1209 596h3v1h-3zM1223 596h1v1h-1zM1228 596h1v1h-1zM231 603h5v1h-5zM247 603h1v1h-1zM259 603h1v1h-1zM333 603h2v1h-2zM355 603h1v1h-1zM427 603h1v1h-1zM473 603h2v1h-2zM921 603h1v1h-1zM927 603h14v1h-14zM978 603h2v1h-2zM990 603h1v1h-1zM1018 603h1v1h-1zM1031 603h1v1h-1zM1040 603h2v1h-2zM1062 603h2v1h-2zM1118 603h1v1h-1zM1174 603h1v1h-1zM1186 603h1v1h-1zM2 592h1v1h-1zM303 592h5v1h-5zM372 592h2v1h-2zM383 592h1v1h-1zM393 592h6v1h-6zM403 592h2v1h-2zM484 592h3v1h-3zM502 592h1v1h-1zM560 592h2v1h-2zM572 592h2v1h-2zM612 592h3v1h-3zM909 592h2v1h-2zM1231 592h1v1h-1zM1240 592h2v1h-2zM66 595h2v1h-2zM96 595h1v1h-1zM101 595h2v1h-2zM120 595h2v1h-2zM124 595h3v1h-3zM296 595h1v1h-1zM313 595h2v1h-2zM364 595h3v1h-3zM408 595h2v1h-2zM413 595h4v1h-4zM419 595h1v1h-1zM506 595h9v1h-9zM543 595h13v1h-13zM578 595h5v1h-5zM595 595h2v1h-2zM607 595h2v1h-2zM914 595h1v1h-1zM1212 595h3v1h-3zM1221 595h2v1h-2zM1229 595h1v1h-1zM226 604h5v1h-5zM248 604h2v1h-2zM255 604h4v1h-4zM335 604h1v1h-1zM345 604h10v1h-10zM428 604h1v1h-1zM464 604h1v1h-1zM922 604h5v1h-5zM941 604h4v1h-4zM977 604h1v1h-1zM980 604h3v1h-3zM989 604h1v1h-1zM1032 604h1v1h-1zM1038 604h2v1h-2zM1064 604h2v1h-2zM1117 604h1v1h-1zM1175 604h1v1h-1zM1184 604h2v1h-2zM224 606h1v1h-1zM338 606h3v1h-3zM430 606h1v1h-1zM947 606h2v1h-2zM975 606h1v1h-1zM985 606h2v1h-2zM1034 606h2v1h-2zM1067 606h2v1h-2zM1105 606h10v1h-10zM1181 606h2v1h-2zM97 594h1v1h-1zM99 594h2v1h-2zM122 594h2v1h-2zM297 594h1v1h-1zM311 594h2v1h-2zM367 594h2v1h-2zM386 594h3v1h-3zM407 594h1v1h-1zM417 594h2v1h-2zM481 594h1v1h-1zM505 594h1v1h-1zM556 594h2v1h-2zM576 594h2v1h-2zM583 594h12v1h-12zM609 594h1v1h-1zM912 594h2v1h-2zM1215 594h2v1h-2zM1219 594h2v1h-2zM26 583h9v1h-9zM653 583h2v1h-2zM710 583h2v1h-2zM719 583h2v1h-2zM724 583h2v1h-2zM749 583h4v1h-4zM795 583h2v1h-2zM839 583h2v1h-2zM181 612h4v1h-4zM217 612h1v1h-1zM455 612h4v1h-4zM961 612h10v1h-10zM1081 612h3v1h-3zM1094 612h1v1h-1zM172 609h3v1h-3zM220 609h1v1h-1zM433 609h1v1h-1zM460 609h1v1h-1zM952 609h2v1h-2zM973 609h1v1h-1zM1072 609h2v1h-2zM1098 609h2v1h-2zM55 599h5v1h-5zM76 599h2v1h-2zM91 599h1v1h-1zM141 599h4v1h-4zM148 599h2v1h-2zM164 599h1v1h-1zM263 599h1v1h-1zM285 599h4v1h-4zM291 599h1v1h-1zM319 599h1v1h-1zM359 599h1v1h-1zM423 599h1v1h-1zM477 599h1v1h-1zM519 599h2v1h-2zM526 599h2v1h-2zM602 599h1v1h-1zM996 599h3v1h-3zM1011 599h2v1h-2zM1024 599h2v1h-2zM1027 599h1v1h-1zM1049 599h4v1h-4zM1124 599h2v1h-2zM1171 599h1v1h-1zM1191 599h2v1h-2zM168 605h1v1h-1zM225 605h1v1h-1zM250 605h5v1h-5zM336 605h2v1h-2zM341 605h4v1h-4zM429 605h1v1h-1zM463 605h1v1h-1zM945 605h2v1h-2zM976 605h1v1h-1zM983 605h2v1h-2zM987 605h2v1h-2zM1033 605h1v1h-1zM1036 605h2v1h-2zM1066 605h1v1h-1zM1115 605h2v1h-2zM1183 605h1v1h-1zM191 614h5v1h-5zM214 614h1v1h-1zM1087 614h2v1h-2zM1091 614h2v1h-2zM3 591h2v1h-2zM374 591h2v1h-2zM381 591h2v1h-2zM399 591h4v1h-4zM487 591h2v1h-2zM501 591h1v1h-1zM562 591h10v1h-10zM615 591h2v1h-2zM865 591h2v1h-2zM907 591h2v1h-2zM1232 591h1v1h-1zM1238 591h2v1h-2zM656 581h2v1h-2zM706 581h2v1h-2zM756 581h3v1h-3zM792 581h2v1h-2zM843 581h2v1h-2zM853 581h1v1h-1zM24 584h2v1h-2zM651 584h2v1h-2zM712 584h2v1h-2zM716 584h3v1h-3zM726 584h2v1h-2zM743 584h6v1h-6zM797 584h1v1h-1zM836 584h3v1h-3zM855 584h1v1h-1zM82 602h3v1h-3zM166 602h1v1h-1zM236 602h3v1h-3zM245 602h2v1h-2zM260 602h1v1h-1zM322 602h5v1h-5zM331 602h2v1h-2zM356 602h1v1h-1zM426 602h1v1h-1zM469 602h4v1h-4zM475 602h1v1h-1zM920 602h1v1h-1zM991 602h2v1h-2zM1016 602h2v1h-2zM1019 602h2v1h-2zM1030 602h1v1h-1zM1042 602h2v1h-2zM1060 602h2v1h-2zM1119 602h2v1h-2zM1173 602h1v1h-1zM1187 602h2v1h-2zM98 593h1v1h-1zM298 593h5v1h-5zM308 593h3v1h-3zM369 593h3v1h-3zM384 593h2v1h-2zM389 593h4v1h-4zM405 593h2v1h-2zM482 593h2v1h-2zM503 593h2v1h-2zM558 593h2v1h-2zM574 593h2v1h-2zM610 593h2v1h-2zM911 593h1v1h-1zM1217 593h2v1h-2zM1242 593h1v1h-1zM5 590h1v1h-1zM38 590h1v1h-1zM376 590h2v1h-2zM379 590h2v1h-2zM489 590h6v1h-6zM499 590h2v1h-2zM617 590h11v1h-11zM863 590h2v1h-2zM867 590h2v1h-2zM903 590h4v1h-4zM1233 590h1v1h-1zM1236 590h2v1h-2zM7 588h2v1h-2zM631 588h2v1h-2zM802 588h26v1h-26zM858 588h2v1h-2zM871 588h1v1h-1zM896 588h2v1h-2zM177 611h4v1h-4zM218 611h1v1h-1zM439 611h16v1h-16zM957 611h4v1h-4zM971 611h1v1h-1zM1077 611h4v1h-4zM1095 611h2v1h-2zM658 580h2v1h-2zM704 580h2v1h-2zM759 580h2v1h-2zM791 580h1v1h-1zM845 580h2v1h-2zM852 580h1v1h-1zM170 608h2v1h-2zM221 608h2v1h-2zM432 608h1v1h-1zM461 608h1v1h-1zM951 608h1v1h-1zM1071 608h1v1h-1zM1100 608h3v1h-3zM1178 608h1v1h-1zM185 613h6v1h-6zM215 613h2v1h-2zM1084 613h3v1h-3zM1093 613h1v1h-1zM196 615h3v1h-3zM213 615h1v1h-1zM1089 615h2v1h-2zM655 582h1v1h-1zM708 582h2v1h-2zM721 582h3v1h-3zM753 582h3v1h-3zM794 582h1v1h-1zM841 582h2v1h-2zM668 576h2v1h-2zM681 576h6v1h-6zM769 576h14v1h-14zM78 600h2v1h-2zM89 600h2v1h-2zM145 600h3v1h-3zM241 600h2v1h-2zM262 600h1v1h-1zM289 600h2v1h-2zM320 600h1v1h-1zM358 600h1v1h-1zM424 600h1v1h-1zM521 600h1v1h-1zM524 600h2v1h-2zM994 600h2v1h-2zM1013 600h2v1h-2zM1023 600h1v1h-1zM1028 600h1v1h-1zM1047 600h2v1h-2zM1053 600h4v1h-4zM1122 600h2v1h-2zM1190 600h1v1h-1zM9 587h1v1h-1zM15 587h5v1h-5zM633 587h6v1h-6zM801 587h1v1h-1zM828 587h3v1h-3zM872 587h2v1h-2zM894 587h2v1h-2zM175 610h2v1h-2zM219 610h1v1h-1zM434 610h5v1h-5zM954 610h3v1h-3zM972 610h1v1h-1zM1074 610h3v1h-3zM1097 610h1v1h-1zM201 617h10v1h-10zM10 586h5v1h-5zM20 586h2v1h-2zM639 586h8v1h-8zM730 586h5v1h-5zM799 586h2v1h-2zM831 586h2v1h-2zM874 586h13v1h-13zM892 586h2v1h-2zM223 607h1v1h-1zM431 607h1v1h-1zM949 607h2v1h-2zM1069 607h2v1h-2zM1103 607h2v1h-2zM1177 607h1v1h-1zM1179 607h2v1h-2zM672 574h2v1h-2zM676 574h3v1h-3zM660 579h3v1h-3zM702 579h2v1h-2zM761 579h3v1h-3zM789 579h2v1h-2zM847 579h1v1h-1zM6 589h1v1h-1zM378 589h1v1h-1zM495 589h4v1h-4zM628 589h3v1h-3zM860 589h3v1h-3zM869 589h2v1h-2zM898 589h5v1h-5zM1234 589h2v1h-2zM670 575h2v1h-2zM679 575h2v1h-2zM199 616h2v1h-2zM211 616h2v1h-2zM674 573h2v1h-2z"/>
</g>
<g class="c">
<rect x="2" y="680" width="1" height="32" fill="#c0c0c0"/>
<rect x="10" y="679" width="1" height="33" fill="#c0c0c0"/>
<rect x="18" y="679" width="1" height="33" fill="#c0c0c0"/>
<rect x="26" y="676" width="1" height="36" fill="#c0c0c0"/>
<rect x="34" y="675" width="1" height="37" fill="#c0c0c0"/>
<rect x="42" y="678" width="1" height="34" fill="#c0c0c0"/>
<rect x="50" y="682" width="1" height="30" fill="#c0c0c0"/>
<rect x="58" y="687" width="1" height="25" fill="#c0c0c0"/>
<rect x="66" y="689" width="1" height="23" fill="#c0c0c0"/>
<rect x="74" y="692" width="1" height="20" fill="#c0c0c0"/>
<rect x="82" y="697" width="1" height="15" fill="#c0c0c0"/>
<rect x="90" y="700" width="1" height="12" fill="#c0c0c0"/>
<rect x="98" y="698" width="1" height="14" fill="#c0c0c0"/>
<rect x="106" y="700" width="1" height="12" fill="#c0c0c0"/>
<rect x="114" y="701" width="1" height="11" fill="#c0c0c0"/>
<rect x="122" y="700" width="1" height="12" fill="#c0c0c0"/>
<rect x="130" y="701" width="1" height="11" fill="#c0c0c0"/>
<rect x="138" y="702" width="1" height="10" fill="#c0c0c0"/>
<rect x="146" y="704" width="1" height="8" fill="#c0c0c0"/>
<rect x="154" y="704" width="1" height="8" fill="#c0c0c0"/>
<rect x="162" y="704" width="1" height="8" fill="#c0c0c0"/>
<rect x="170" y="710" width="1" height="2" fill="#c0c0c0"/>
<rect x="178" y="711" width="1" height="5" fill="#c0c0c0"/>
<rect x="186" y="711" width="1" height="11" fill="#c0c0c0"/>
<rect x="194" y="711" width="1" height="17" fill="#c0c0c0"/>
<rect x="202" y="711" width="1" height="23" fill="#c0c0c0"/>
<rect x="210" y="711" width="1" height="28" fill="#c0c0c0"/>
<rect x="218" y="711" width="1" height="29" fill="#c0c0c0"/>
<rect x="226" y="711" width="1" height="27" fill="#c0c0c0"/>
<rect x="234" y="711" width="1" height="25" fill="#c0c0c0"/>
<rect x="242" y="711" width="1" height="22" fill="#c0c0c0"/>
<rect x="250" y="711" width="1" height="21" fill="#c0c0c0"/>
<rect x="258" y="711" width="1" height="19" fill="#c0c0c0"/>
<rect x="266" y="711" width="1" height="15" fill="#c0c0c0"/>
<rect x="274" y="711" width="1" height="11" fill="#c0c0c0"/>
<rect x="282" y="711" width="1" height="9" fill="#c0c0c0"/>
<rect x="290" y="711" width="1" height="7" fill="#c0c0c0"/>
<rect x="298" y="711" width="1" height="3" fill="#c0c0c0"/>
<rect x="306" y="711" width="1" height="1" fill="#c0c0c0"/>
<rect x="314" y="709" width="1" height="3" fill="#c0c0c0"/>
<rect x="322" y="711" width="1" height="1" fill="#c0c0c0"/>
<rect x="330" y="711" width="1" height="1" fill="#c0c0c0"/>
<rect x="338" y="711" width="1" height="4" fill="#c0c0c0"/>
<rect x="346" y="711" width="1" height="5" fill="#c0c0c0"/>
<rect x="354" y="711" width="1" height="6" fill="#c0c0c0"/>
<rect x="362" y="711" width="1" height="4" fill="#c0c0c0"/>
<rect x="370" y="711" width="1" height="1" fill="#c0c0c0"/>
<rect x="378" y="706" width="1" height="6" fill="#c0c0c0"/>
<rect x="386" y="704" width="1" height="8" fill="#c0c0c0"/>
<rect x="394" y="702" width="1" height="10" fill="#c0c0c0"/>
<rect x="402" y="699" width="1" height="13" fill="#c0c0c0"/>
<rect x="410" y="700" width="1" height="12" fill="#c0c0c0"/>
<rect x="418" y="699" width="1" height="13" fill="#c0c0c0"/>
<rect x="426" y="703" width="1" height="9" fill="#c0c0c0"/>
<rect x="434" y="711" width="1" height="1" fill="#c0c0c0"/>
<rect x="442" y="711" width="1" height="6" fill="#c0c0c0"/>
<rect x="450" y="711" width="1" height="11" fill="#c0c0c0"/>
<rect x="458" y="711" width="1" height="16" fill="#c0c0c0"/>
<rect x="466" y="711" width="1" height="14" fill="#c0c0c0"/>
<rect x="474" y="711" width="1" height="14" fill="#c0c0c0"/>
<rect x="482" y="711" width="1" height="7" fill="#c0c0c0"/>
<rect x="490" y="711" width="1" height="1" fill="#c0c0c0"/>
<rect x="498" y="706" width="1" height="6" fill="#c0c0c0"/>
<rect x="506" y="704" width="1" height="8" fill="#c0c0c0"/>
<rect x="514" y="703" width="1" height="9" fill="#c0c0c0"/>
<rect x="522" y="705" width="1" height="7" fill="#c0c0c0"/>
<rect x="530" y="705" width="1" height="7" fill="#c0c0c0"/>
<rect x="538" y="703" width="1" height="9" fill="#c0c0c0"/>
<rect x="546" y="702" width="1" height="10" fill="#c0c0c0"/>
<rect x="554" y="701" width="1" height="11" fill="#c0c0c0"/>
<rect x="562" y="698" width="1" height="14" fill="#c0c0c0"/>
<rect x="570" y="696" width="1" height="16" fill="#c0c0c0"/>
<rect x="578" y="697" width="1" height="15" fill="#c0c0c0"/>
<rect x="586" y="697" width="1" height="15" fill="#c0c0c0"/>
<rect x="594" y="696" width="1" height="16" fill="#c0c0c0"/>
<rect x="602" y="698" width="1" height="14" fill="#c0c0c0"/>
<rect x="610" y="697" width="1" height="15" fill="#c0c0c0"/>
<rect x="618" y="695" width="1" height="17" fill="#c0c0c0"/>
<rect x="626" y="694" width="1" height="18" fill="#c0c0c0"/>
<rect x="634" y="691" width="1" height="21" fill="#c0c0c0"/>
<rect x="642" y="688" width="1" height="24" fill="#c0c0c0"/>
<rect x="650" y="685" width="1" height="27" fill="#c0c0c0"/>
<rect x="658" y="680" width="1" height="32" fill="#c0c0c0"/>
<rect x="666" y="674" width="1" height="38" fill="#c0c0c0"/>
<rect x="674" y="666" width="1" height="46" fill="#c0c0c0"/>
<rect x="682" y="661" width="1" height="51" fill="#c0c0c0"/>
<rect x="690" y="657" width="1" height="55" fill="#c0c0c0"/>
<rect x="698" y="656" width="1" height="56" fill="#c0c0c0"/>
<rect x="706" y="656" width="1" height="56" fill="#c0c0c0"/>
<rect x="714" y="659" width="1" height="53" fill="#c0c0c0"/>
<rect x="722" y="658" width="1" height="54" fill="#c0c0c0"/>
<rect x="730" y="660" width="1" height="52" fill="#c0c0c0"/>
<rect x="738" y="662" width="1" height="50" fill="#c0c0c0"/>
<rect x="746" y="663" width="1" height="49" fill="#c0c0c0"/>
<rect x="754" y="664" width="1" height="48" fill="#c0c0c0"/>
<rect x="762" y="663" width="1" height="49" fill="#c0c0c0"/>
<rect x="770" y="660" width="1" height="52" fill="#c0c0c0"/>
<rect x="778" y="658" width="1" height="54" fill="#c0c0c0"/>
<rect x="786" y="657" width="1" height="55" fill="#c0c0c0"/>
<rect x="794" y="658" width="1" height="54" fill="#c0c0c0"/>
<rect x="802" y="662" width="1" height="50" fill="#c0c0c0"/>
<rect x="810" y="665" width="1" height="47" fill="#c0c0c0"/>
<rect x="818" y="668" width="1" height="44" fill="#c0c0c0"/>
<rect x="826" y="671" width="1" height="41" fill="#c0c0c0"/>
<rect x="834" y="672" width="1" height="40" fill="#c0c0c0"/>
<rect x="842" y="672" width="1" height="40" fill="#c0c0c0"/>
<rect x="850" y="669" width="1" height="43" fill="#c0c0c0"/>
<rect x="858" y="671" width="1" height="41" fill="#c0c0c0"/>
<rect x="866" y="674" width="1" height="38" fill="#c0c0c0"/>
<rect x="874" y="673" width="1" height="39" fill="#c0c0c0"/>
<rect x="882" y="674" width="1" height="38" fill="#c0c0c0"/>
<rect x="890" y="674" width="1" height="38" fill="#c0c0c0"/>
<rect x="898" y="675" width="1" height="37" fill="#c0c0c0"/>
<rect x="906" y="677" width="1" height="35" fill="#c0c0c0"/>
<rect x="914" y="681" width="1" height="31" fill="#c0c0c0"/>
<rect x="922" y="688" width="1" height="24" fill="#c0c0c0"/>
<rect x="930" y="694" width="1" height="18" fill="#c0c0c0"/>
<rect x="938" y="698" width="1" height="14" fill="#c0c0c0"/>
<rect x="946" y="703" width="1" height="9" fill="#c0c0c0"/>
<rect x="954" y="709" width="1" height="3" fill="#c0c0c0"/>
<rect x="962" y="711" width="1" height="1" fill="#c0c0c0"/>
<rect x="970" y="711" width="1" height="7" fill="#c0c0c0"/>
<rect x="978" y="711" width="1" height="7" fill="#c0c0c0"/>
<rect x="986" y="711" width="1" height="9" fill="#c0c0c0"/>
<rect x="994" y="711" width="1" height="8" fill="#c0c0c0"/>
<rect x="1002" y="711" width="1" height="6" fill="#c0c0c0"/>
<rect x="1010" y="711" width="1" height="4" fill="#c0c0c0"/>
<rect x="1018" y="711" width="1" height="5" fill="#c0c0c0"/>
<rect x="1026" y="711" width="1" height="5" fill="#c0c0c0"/>
<rect x="1034" y="711" width="1" height="6" fill="#c0c0c0"/>
<rect x="1042" y="711" width="1" height="7" fill="#c0c0c0"/>
<rect x="1050" y="711" width="1" height="6" fill="#c0c0c0"/>
<rect x="1058" y="711" width="1" height="6" fill="#c0c0c0"/>
<rect x="1066" y="711" width="1" height="7" fill="#c0c0c0"/>
<rect x="1074" y="711" width="1" height="13" fill="#c0c0c0"/>
<rect x="1082" y="711" width="1" height="17" fill="#c0c0c0"/>
<rect x="1090" y="711" width="1" height="22" fill="#c0c0c0"/>
<rect x="1098" y="711" width="1" height="23" fill="#c0c0c0"/>
<rect x="1106" y="711" width="1" height="23" fill="#c0c0c0"/>
<rect x="1114" y="711" width="1" height="22" fill="#c0c0c0"/>
<rect x="1122" y="711" width="1" height="19" fill="#c0c0c0"/>
<rect x="1130" y="711" width="1" height="14" fill="#c0c0c0"/>
<rect x="1138" y="711" width="1" height="11" fill="#c0c0c0"/>
<rect x="1146" y="711" width="1" height="8" fill="#c0c0c0"/>
<rect x="1154" y="711" width="1" height="6" fill="#c0c0c0"/>
<rect x="1162" y="711" width="1" height="3" fill="#c0c0c0"/>
<rect x="1170" y="711" width="1" height="3" fill="#c0c0c0"/>
<rect x="1178" y="711" width="1" height="5" fill="#c0c0c0"/>
<rect x="1186" y="711" width="1" height="7" fill="#c0c0c0"/>
<rect x="1194" y="711" width="1" height="4" fill="#c0c0c0"/>
<rect x="1202" y="711" width="1" height="3" fill="#c0c0c0"/>
<rect x="1210" y="711" width="1" height="1" fill="#c0c0c0"/>
<rect x="1218" y="710" width="1" height="2" fill="#c0c0c0"/>
<rect x="1226" y="711" width="1" height="1" fill="#c0c0c0"/>
<rect x="1234" y="704" width="1" height="8" fill="#c0c0c0"/>
<rect x="1242" y="702" width="1" height="10" fill="#c0c0c0"/>
</g><g class="c">
<path fill="#ff0000" d="M135 698h2v1h-2zM140 698h2v1h-2zM591 698h2v1h-2zM596 698h3v1h-3zM602 698h3v1h-3zM62 679h3v1h-3zM68 679h1v1h-1zM686 679h2v1h-2zM932 679h3v1h-3zM212 717h1v1h-1zM326 717h3v1h-3zM488 717h1v1h-1zM506 717h3v1h-3zM1023 717h2v1h-2zM1028 717h3v1h-3zM1034 717h3v1h-3zM1040 717h3v1h-3zM1046 717h3v1h-3zM1052 717h3v1h-3zM1058 717h3v1h-3zM1064 717h3v1h-3zM1070 717h3v1h-3zM1202 717h3v1h-3zM164 701h3v1h-3zM170 701h2v1h-2zM567 701h2v1h-2zM572 701h3v1h-3zM976 701h1v1h-1zM729 660h2v1h-2zM764 660h3v1h-3zM770 660h3v1h-3zM776 660h3v1h-3zM782 660h3v1h-3zM788 660h3v1h-3zM794 660h3v1h-3zM800 660h3v1h-3zM806 660h3v1h-3zM202 713h1v1h-1zM344 713h3v1h-3zM350 713h3v1h-3zM356 713h3v1h-3zM362 713h3v1h-3zM471 713h2v1h-2zM524 713h2v1h-2zM1005 713h2v1h-2zM1228 713h1v1h-1zM15 671h2v1h-2zM699 671h2v1h-2zM884 671h3v1h-3zM890 671h1v1h-1zM200 712h2v1h-2zM368 712h3v1h-3zM374 712h3v1h-3zM380 712h3v1h-3zM470 712h1v1h-1zM526 712h1v1h-1zM1004 712h1v1h-1zM1232 712h3v1h-3zM1238 712h1v1h-1zM128 696h1v1h-1zM615 696h2v1h-2zM620 696h3v1h-3zM626 696h3v1h-3zM968 696h2v1h-2zM332 716h1v1h-1zM482 716h3v1h-3zM512 716h3v1h-3zM1017 716h2v1h-2zM1022 716h1v1h-1zM1208 716h3v1h-3zM1214 716h3v1h-3zM92 686h3v1h-3zM950 686h2v1h-2zM213 718h2v1h-2zM321 718h2v1h-2zM489 718h2v1h-2zM494 718h3v1h-3zM500 718h3v1h-3zM1076 718h3v1h-3zM1196 718h3v1h-3zM38 676h3v1h-3zM44 676h2v1h-2zM692 676h1v1h-1zM926 676h1v1h-1zM129 697h2v1h-2zM134 697h1v1h-1zM608 697h3v1h-3zM614 697h1v1h-1zM970 697h1v1h-1zM232 728h1v1h-1zM290 728h2v1h-2zM1119 728h2v1h-2zM1124 728h3v1h-3zM1154 728h1v1h-1zM218 721h2v1h-2zM1089 721h2v1h-2zM1094 721h1v1h-1zM1178 721h3v1h-3zM740 658h3v1h-3zM746 658h3v1h-3zM152 700h3v1h-3zM158 700h3v1h-3zM578 700h3v1h-3zM975 700h1v1h-1zM188 706h1v1h-1zM416 706h1v1h-1zM452 706h3v1h-3zM548 706h1v1h-1zM986 706h2v1h-2zM105 690h2v1h-2zM662 690h3v1h-3zM958 690h1v1h-1zM255 734h2v1h-2zM260 734h3v1h-3zM266 734h3v1h-3zM272 734h3v1h-3zM734 659h3v1h-3zM752 659h3v1h-3zM758 659h3v1h-3zM236 730h3v1h-3zM286 730h1v1h-1zM320 719h1v1h-1zM1082 719h3v1h-3zM1190 719h3v1h-3zM117 694h2v1h-2zM639 694h2v1h-2zM644 694h3v1h-3zM4 667h1v1h-1zM706 667h1v1h-1zM866 667h3v1h-3zM728 661h1v1h-1zM812 661h3v1h-3zM818 661h3v1h-3zM824 661h3v1h-3zM830 661h2v1h-2zM182 705h3v1h-3zM417 705h2v1h-2zM447 705h2v1h-2zM549 705h2v1h-2zM100 688h1v1h-1zM668 688h2v1h-2zM9 669h2v1h-2zM873 669h2v1h-2zM230 727h2v1h-2zM292 727h1v1h-1zM1113 727h2v1h-2zM1118 727h1v1h-1zM1155 727h2v1h-2zM86 685h3v1h-3zM674 685h2v1h-2zM2 666h2v1h-2zM710 666h3v1h-3zM855 666h2v1h-2zM860 666h3v1h-3zM224 724h2v1h-2zM302 724h3v1h-3zM1166 724h3v1h-3zM142 699h1v1h-1zM146 699h3v1h-3zM584 699h3v1h-3zM590 699h1v1h-1zM974 699h1v1h-1zM194 708h1v1h-1zM404 708h3v1h-3zM458 708h2v1h-2zM537 708h2v1h-2zM386 711h3v1h-3zM465 711h2v1h-2zM530 711h2v1h-2zM998 711h3v1h-3zM1239 711h2v1h-2zM177 704h2v1h-2zM422 704h3v1h-3zM441 704h2v1h-2zM446 704h1v1h-1zM554 704h3v1h-3zM982 704h1v1h-1zM20 672h1v1h-1zM698 672h1v1h-1zM891 672h2v1h-2zM896 672h3v1h-3zM902 672h3v1h-3zM908 672h3v1h-3zM914 672h3v1h-3zM82 684h1v1h-1zM676 684h1v1h-1zM945 684h2v1h-2zM226 725h1v1h-1zM297 725h2v1h-2zM1106 725h3v1h-3zM1161 725h2v1h-2zM207 715h2v1h-2zM333 715h2v1h-2zM477 715h2v1h-2zM518 715h2v1h-2zM1016 715h1v1h-1zM1220 715h3v1h-3zM74 681h3v1h-3zM682 681h1v1h-1zM938 681h2v1h-2zM32 675h3v1h-3zM693 675h2v1h-2zM922 675h1v1h-1zM122 695h3v1h-3zM632 695h3v1h-3zM638 695h1v1h-1zM8 668h1v1h-1zM704 668h2v1h-2zM872 668h1v1h-1zM14 670h1v1h-1zM878 670h3v1h-3zM716 665h1v1h-1zM848 665h3v1h-3zM854 665h1v1h-1zM1130 729h3v1h-3zM1136 729h3v1h-3zM1142 729h3v1h-3zM1148 729h3v1h-3zM189 707h2v1h-2zM410 707h3v1h-3zM542 707h3v1h-3zM988 707h1v1h-1zM242 732h3v1h-3zM206 714h1v1h-1zM338 714h3v1h-3zM476 714h1v1h-1zM520 714h1v1h-1zM1010 714h3v1h-3zM1226 714h2v1h-2zM116 693h1v1h-1zM650 693h3v1h-3zM963 693h2v1h-2zM98 687h2v1h-2zM670 687h1v1h-1zM952 687h1v1h-1zM314 720h3v1h-3zM1088 720h1v1h-1zM1184 720h3v1h-3zM717 664h2v1h-2zM842 664h3v1h-3zM172 702h1v1h-1zM561 702h2v1h-2zM566 702h1v1h-1zM110 692h3v1h-3zM656 692h1v1h-1zM962 692h1v1h-1zM220 722h1v1h-1zM308 722h3v1h-3zM1095 722h2v1h-2zM1173 722h2v1h-2zM21 673h2v1h-2zM104 689h1v1h-1zM956 689h2v1h-2zM195 709h2v1h-2zM398 709h3v1h-3zM460 709h1v1h-1zM536 709h1v1h-1zM992 709h2v1h-2zM724 662h1v1h-1zM832 662h1v1h-1zM176 703h1v1h-1zM428 703h3v1h-3zM434 703h3v1h-3zM440 703h1v1h-1zM560 703h1v1h-1zM980 703h2v1h-2zM680 682h2v1h-2zM940 682h1v1h-1zM46 677h1v1h-1zM50 677h3v1h-3zM927 677h2v1h-2zM392 710h3v1h-3zM464 710h1v1h-1zM532 710h1v1h-1zM994 710h1v1h-1zM248 733h3v1h-3zM254 733h1v1h-1zM278 733h3v1h-3zM284 731h2v1h-2zM69 680h2v1h-2zM1100 723h3v1h-3zM1172 723h1v1h-1zM56 678h3v1h-3zM688 678h1v1h-1zM722 663h2v1h-2zM836 663h3v1h-3zM80 683h2v1h-2zM944 683h1v1h-1zM657 691h2v1h-2zM26 674h3v1h-3zM920 674h2v1h-2zM296 726h1v1h-1zM1112 726h1v1h-1zM1160 726h1v1h-1z"/>
</g>
<g class="c">
<rect x="1579" y="51" width="3" height="1" fill="#000"/>
<rect x="1579" y="84" width="3" height="1" fill="#000"/>
<rect x="1579" y="117" width="3" height="1" fill="#000"/>
<rect x="1579" y="150" width="3" height="1" fill="#000"/>
<rect x="1579" y="183" width="3" height="1" fill="#000"/>
<rect x="1579" y="216" width="3" height="1" fill="#000"/>
<rect x="1579" y="249" width="3" height="1" fill="#000"/>
<rect x="1579" y="282" width="3" height="1" fill="#000"/>
<rect x="1579" y="315" width="3" height="1" fill="#000"/>
<rect x="1579" y="348" width="3" height="1" fill="#000"/>
<rect x="1579" y="381" width="3" height="1" fill="#000"/>
<rect x="1579" y="414" width="3" height="1" fill="#000"/>
<rect x="1579" y="447" width="3" height="1" fill="#000"/>
<rect x="1579" y="480" width="3" height="1" fill="#000"/>
<rect x="1579" y="513" width="3" height="1" fill="#000"/>
<rect x="1579" y="546" width="3" height="1" fill="#000"/>
<rect x="1579" y="553" width="2" height="1" fill="#000"/>
<rect x="1579" y="581" width="2" height="1" fill="#000"/>
<rect x="1579" y="618" width="2" height="1" fill="#000"/>
<rect x="1579" y="646" width="2" height="1" fill="#000"/>
<rect x="1579" y="651" width="2" height="1" fill="#000"/>
<rect x="1579" y="711" width="2" height="1" fill="#000"/>
<rect x="1579" y="744" width="2" height="1" fill="#000"/>
<rect x="2" y="746" width="1" height="3" fill="#000"/>
<rect x="66" y="746" width="1" height="3" fill="#000"/>
<rect x="130" y="746" width="1" height="3" fill="#000"/>
<rect x="194" y="746" width="1" height="3" fill="#000"/>
<rect x="258" y="746" width="1" height="3" fill="#000"/>
<rect x="322" y="746" width="1" height="3" fill="#000"/>
<rect x="386" y="746" width="1" height="3" fill="#000"/>
<rect x="450" y="746" width="1" height="3" fill="#000"/>
<rect x="514" y="746" width="1" height="3" fill="#000"/>
<rect x="578" y="746" width="1" height="3" fill="#000"/>
<rect x="642" y="746" width="1" height="3" fill="#000"/>
<rect x="706" y="746" width="1" height="3" fill="#000"/>
<rect x="770" y="746" width="1" height="3" fill="#000"/>
<rect x="834" y="746" width="1" height="3" fill="#000"/>
<rect x="898" y="746" width="1" height="3" fill="#000"/>
<rect x="962" y="746" width="1" height="3" fill="#000"/>
<rect x="1026" y="746" width="1" height="3" fill="#000"/>
<rect x="1090" y="746" width="1" height="3" fill="#000"/>
<rect x="1154" y="746" width="1" height="3" fill="#000"/>
<rect x="1218" y="746" width="1" height="3" fill="#000"/>
</g><g>
<text x="1584" y="54.5" textLength="32.0" lengthAdjust="spacingAndGlyphs">1.23440</text>
<text x="1584" y="87.5" textLength="32.0" lengthAdjust="spacingAndGlyphs">1.22930</text>
<text x="1584" y="120.5" textLength="32.0" lengthAdjust="spacingAndGlyphs">1.22435</text>
<text x="1584" y="153.5" textLength="32.0" lengthAdjust="spacingAndGlyphs">1.21925</text>
<text x="1584" y="186.5" textLength="32.0" lengthAdjust="spacingAndGlyphs">1.21415</text>
<text x="1584" y="219.5" textLength="32.0" lengthAdjust="spacingAndGlyphs">1.20905</text>
<text x="1584" y="252.5" textLength="32.0" lengthAdjust="spacingAndGlyphs">1.20410</text>
<text x="1584" y="285.5" textLength="32.0" lengthAdjust="spacingAndGlyphs">1.19900</text>
<text x="1584" y="318.5" textLength="32.0" lengthAdjust="spacingAndGlyphs">1.19390</text>
<text x="1584" y="351.5" textLength="32.0" lengthAdjust="spacingAndGlyphs">1.18895</text>
<text x="1584" y="384.5" textLength="32.0" lengthAdjust="spacingAndGlyphs">1.18385</text>
<text x="1584" y="417.5" textLength="32.0" lengthAdjust="spacingAndGlyphs">1.17875</text>
<text x="1584" y="450.5" textLength="32.0" lengthAdjust="spacingAndGlyphs">1.17380</text>
<text x="1584" y="483.5" textLength="32.0" lengthAdjust="spacingAndGlyphs">1.16870</text>
<text x="1584" y="516.5" textLength="32.0" lengthAdjust="spacingAndGlyphs">1.16360</text>
<text x="1584" y="549.5" textLength="32.0" lengthAdjust="spacingAndGlyphs">1.15865</text>
<text x="1582" y="562.5" textLength="13.5" lengthAdjust="spacingAndGlyphs">100</text>
<text x="1582" y="584.5" textLength="9.4" lengthAdjust="spacingAndGlyphs">70</text>
<text x="1582" y="621.5" textLength="9.4" lengthAdjust="spacingAndGlyphs">30</text>
<text x="1582" y="643.8" textLength="4.7" lengthAdjust="spacingAndGlyphs">0</text>
<text x="1582" y="659.9" textLength="37.3" lengthAdjust="spacingAndGlyphs">0.009354</text>
<text x="1582" y="714.9" textLength="17.6" lengthAdjust="spacingAndGlyphs">0.00</text>
<text x="1582" y="742.1" textLength="40.6" lengthAdjust="spacingAndGlyphs">-0.005156</text>
</g>
<g class="c">
<rect x="1580" y="73" width="41" height="11" fill="#ff0000"/>
<rect x="1580" y="138" width="41" height="11" fill="#ff0000"/>
<rect x="1580" y="204" width="41" height="11" fill="#00ff00"/>
<rect x="1580" y="268" width="41" height="11" fill="#0000ff"/>
<rect x="1580" y="334" width="41" height="11" fill="#0000ff"/>
<rect x="1580" y="156" width="41" height="11" fill="#000"/>
</g><g>
<text x="1584" y="82" textLength="32.0" lengthAdjust="spacingAndGlyphs" style="fill:#fff;stroke:#fff">1.23004</text>
<text x="1584" y="147" textLength="32.0" lengthAdjust="spacingAndGlyphs" style="fill:#fff;stroke:#fff">1.22010</text>
<text x="1584" y="213" textLength="32.0" lengthAdjust="spacingAndGlyphs" style="fill:#fff;stroke:#fff">1.21002</text>
<text x="1584" y="277" textLength="32.0" lengthAdjust="spacingAndGlyphs" style="fill:#fff;stroke:#fff">1.20023</text>
<text x="1584" y="343" textLength="32.0" lengthAdjust="spacingAndGlyphs" style="fill:#fff;stroke:#fff">1.19015</text>
<text x="1584" y="165" textLength="32.0" lengthAdjust="spacingAndGlyphs" style="fill:#fff;stroke:#fff">1.21760</text>
<text x="17.2" y="34" textLength="63.3" lengthAdjust="spacingAndGlyphs">EURUSD,Daily</text>
<text x="87.4" y="34" textLength="32.3" lengthAdjust="spacingAndGlyphs">1.22222</text>
<text x="123.3" y="34" textLength="32.3" lengthAdjust="spacingAndGlyphs">1.22378</text>
<text x="159.4" y="34" textLength="32.3" lengthAdjust="spacingAndGlyphs">1.21365</text>
<text x="195.3" y="34" textLength="32.3" lengthAdjust="spacingAndGlyphs">1.21760</text>
<text x="6" y="564" textLength="67.5" lengthAdjust="spacingAndGlyphs">RSI(14) 55.8261</text>
<text x="6" y="662" textLength="147.4" lengthAdjust="spacingAndGlyphs">MACD(12,26,9) 0.001504 0.000031</text>
<text x="1" y="757.7" textLength="52.2" lengthAdjust="spacingAndGlyphs">27 Aug 2020</text>
<text x="65" y="757.7" textLength="47.6" lengthAdjust="spacingAndGlyphs">5 Sep 2020</text>
<text x="129" y="757.7" textLength="52.7" lengthAdjust="spacingAndGlyphs">15 Sep 2020</text>
<text x="193" y="757.7" textLength="52.7" lengthAdjust="spacingAndGlyphs">24 Sep 2020</text>
<text x="257" y="757.7" textLength="45.5" lengthAdjust="spacingAndGlyphs">3 Oct 2020</text>
<text x="321" y="757.7" textLength="50.7" lengthAdjust="spacingAndGlyphs">13 Oct 2020</text>
<text x="385" y="757.7" textLength="50.7" lengthAdjust="spacingAndGlyphs">22 Oct 2020</text>
<text x="449" y="757.7" textLength="50.7" lengthAdjust="spacingAndGlyphs">31 Oct 2020</text>
<text x="513" y="757.7" textLength="54.2" lengthAdjust="spacingAndGlyphs">10 Nov 2020</text>
<text x="577" y="757.7" textLength="54.2" lengthAdjust="spacingAndGlyphs">19 Nov 2020</text>
<text x="641" y="757.7" textLength="54.2" lengthAdjust="spacingAndGlyphs">28 Nov 2020</text>
<text x="705" y="757.7" textLength="47.6" lengthAdjust="spacingAndGlyphs">8 Dec 2020</text>
<text x="769" y="757.7" textLength="52.7" lengthAdjust="spacingAndGlyphs">17 Dec 2020</text>
<text x="833" y="757.7" textLength="52.7" lengthAdjust="spacingAndGlyphs">28 Dec 2020</text>
<text x="897" y="757.7" textLength="46.0" lengthAdjust="spacingAndGlyphs">7 Jan 2021</text>
<text x="961" y="757.7" textLength="51.2" lengthAdjust="spacingAndGlyphs">16 Jan 2021</text>
<text x="1025" y="757.7" textLength="51.2" lengthAdjust="spacingAndGlyphs">26 Jan 2021</text>
<text x="1089" y="757.7" textLength="47.0" lengthAdjust="spacingAndGlyphs">4 Feb 2021</text>
<text x="1153" y="757.7" textLength="52.2" lengthAdjust="spacingAndGlyphs">13 Feb 2021</text>
<text x="1217" y="757.7" textLength="52.2" lengthAdjust="spacingAndGlyphs">23 Feb 2021</text>
</g>
<g class="c tab">
<rect x="0" y="766" width="1622" height="2" fill="#e6e6e6"/>
<rect x="0" y="768" width="1622" height="1" fill="#3c3c3c"/>
<rect x="0" y="769" width="1622" height="19" fill="#f0f0f0"/>
<rect x="0" y="788" width="1622" height="4" fill="#f7f7f7"/>
<rect x="4" y="768" width="102" height="18" fill="#fff"/>
<rect x="3" y="768" width="1" height="19" fill="#000"/><rect x="3" y="786" width="104" height="1" fill="#000"/><rect x="106" y="768" width="1" height="19" fill="#000"/>
<rect x="107" y="769" width="1" height="19" fill="#8a8a8a"/><rect x="4" y="787" width="104" height="1" fill="#9a9a9a"/>
<rect x="206" y="772" width="1" height="14" fill="#80808a"/>
<rect x="311" y="772" width="1" height="14" fill="#80808a"/>
<rect x="414" y="772" width="1" height="14" fill="#80808a"/>
<rect x="519" y="772" width="1" height="14" fill="#80808a"/>
<rect x="623" y="772" width="1" height="14" fill="#80808a"/>
<rect x="715" y="772" width="1" height="14" fill="#80808a"/>
<rect x="819" y="772" width="1" height="14" fill="#80808a"/>
<rect x="891" y="772" width="1" height="14" fill="#80808a"/>
<rect x="970" y="772" width="1" height="14" fill="#80808a"/>
<rect x="1051" y="772" width="1" height="14" fill="#80808a"/>
<rect x="1131" y="772" width="1" height="14" fill="#80808a"/>
<rect x="1207" y="772" width="1" height="14" fill="#80808a"/>
<rect x="1306" y="772" width="1" height="14" fill="#80808a"/>
<rect x="1391" y="772" width="1" height="14" fill="#80808a"/>
<rect x="1471" y="772" width="1" height="14" fill="#80808a"/>
<rect x="1571" y="772" width="1" height="14" fill="#80808a"/>
<path d="M1597.5 774v7l-4.5-3.5z" fill="#9a9a9a"/><path d="M1612.5 774v7l4.5-3.5z" fill="#000"/>
</g><g class="tab">
<text x="15.3" y="783.4" textLength="79.7" lengthAdjust="spacingAndGlyphs" style="fill:#000;stroke:#000">EURUSD,Daily</text>
<text x="117" y="783.4" textLength="79.0" lengthAdjust="spacingAndGlyphs">USDCHF,Daily</text>
<text x="218" y="783.4" textLength="82.0" lengthAdjust="spacingAndGlyphs">AUDUSD,Daily</text>
<text x="322" y="783.4" textLength="81.0" lengthAdjust="spacingAndGlyphs">USDCAD,Daily</text>
<text x="425" y="783.4" textLength="83.0" lengthAdjust="spacingAndGlyphs">USDCNH,Daily</text>
<text x="531.5" y="783.4" textLength="79.2" lengthAdjust="spacingAndGlyphs">EURUSD,Daily</text>
<text x="635.3" y="783.4" textLength="66.9" lengthAdjust="spacingAndGlyphs">GBPUSD,H4</text>
<text x="726.2" y="783.4" textLength="80.6" lengthAdjust="spacingAndGlyphs">XAUUSD,Daily</text>
<text x="830" y="783.4" textLength="49.4" lengthAdjust="spacingAndGlyphs">HK50,H1</text>
<text x="902.3" y="783.4" textLength="56.6" lengthAdjust="spacingAndGlyphs">UK100,H1</text>
<text x="982.2" y="783.4" textLength="56.6" lengthAdjust="spacingAndGlyphs">UK100,H1</text>
<text x="1062" y="783.4" textLength="56.7" lengthAdjust="spacingAndGlyphs">GER30,H1</text>
<text x="1141.3" y="783.4" textLength="53.9" lengthAdjust="spacingAndGlyphs">FRA40,H1</text>
<text x="1217.9" y="783.4" textLength="77.1" lengthAdjust="spacingAndGlyphs">USOil,Weekly</text>
<text x="1317" y="783.4" textLength="62.3" lengthAdjust="spacingAndGlyphs">USDJPY,H1</text>
<text x="1401.4" y="783.4" textLength="58.5" lengthAdjust="spacingAndGlyphs">DJ30,Daily</text>
<text x="1481.5" y="783.4" textLength="77.8" lengthAdjust="spacingAndGlyphs">CHINA300,H1</text>
<text x="1581.4" y="783.4" textLength="6.6" lengthAdjust="spacingAndGlyphs">U</text>
</g>
</svg></body></html>
